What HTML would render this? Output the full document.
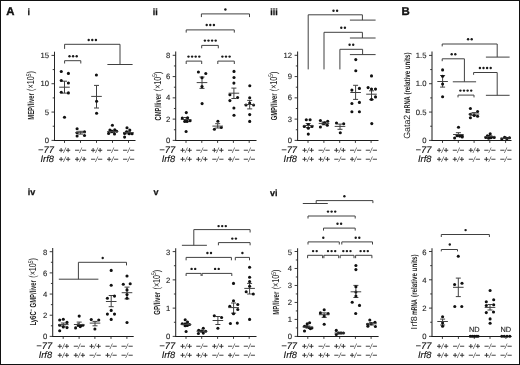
<!DOCTYPE html>
<html><head><meta charset="utf-8"><style>
html,body{margin:0;padding:0;background:#fff;}
#f{position:absolute;left:0;top:0;width:520px;height:365px;box-sizing:border-box;border:1px solid #111;background:#fff;overflow:hidden;}
svg{position:absolute;left:-1px;top:-1px;will-change:transform;}
text{font-family:"Liberation Sans",sans-serif;text-rendering:geometricPrecision;}
</style></head><body><div id="f">
<svg width="520" height="365" viewBox="0 0 520 365">
<line x1="54.50" y1="51.70" x2="54.50" y2="140.90" stroke="#262626" stroke-width="1.05"/>
<line x1="54.00" y1="140.40" x2="135.50" y2="140.40" stroke="#1c1c1c" stroke-width="1.05"/>
<line x1="51.50" y1="140.40" x2="54.50" y2="140.40" stroke="#262626" stroke-width="0.9"/>
<text x="49.00" y="143.00" font-size="7.7" text-anchor="end" font-weight="normal" font-style="normal" fill="#1e1e1e" stroke="#1e1e1e" stroke-width="0.12">0</text>
<line x1="51.50" y1="112.07" x2="54.50" y2="112.07" stroke="#262626" stroke-width="0.9"/>
<text x="49.00" y="114.67" font-size="7.7" text-anchor="end" font-weight="normal" font-style="normal" fill="#1e1e1e" stroke="#1e1e1e" stroke-width="0.12">5</text>
<line x1="51.50" y1="83.73" x2="54.50" y2="83.73" stroke="#262626" stroke-width="0.9"/>
<text x="49.00" y="86.33" font-size="7.7" text-anchor="end" font-weight="normal" font-style="normal" fill="#1e1e1e" stroke="#1e1e1e" stroke-width="0.12">10</text>
<line x1="51.50" y1="55.40" x2="54.50" y2="55.40" stroke="#262626" stroke-width="0.9"/>
<text x="49.00" y="58.00" font-size="7.7" text-anchor="end" font-weight="normal" font-style="normal" fill="#1e1e1e" stroke="#1e1e1e" stroke-width="0.12">15</text>
<line x1="52.70" y1="126.23" x2="54.50" y2="126.23" stroke="#262626" stroke-width="0.9"/>
<line x1="52.70" y1="97.90" x2="54.50" y2="97.90" stroke="#262626" stroke-width="0.9"/>
<line x1="52.70" y1="69.57" x2="54.50" y2="69.57" stroke="#262626" stroke-width="0.9"/>
<line x1="64.50" y1="140.40" x2="64.50" y2="142.90" stroke="#262626" stroke-width="0.9"/>
<text x="64.50" y="152.60" font-size="8.4" text-anchor="middle" font-weight="normal" font-style="italic" fill="#333" ><tspan font-weight="bold">+</tspan><tspan font-size="7.6">/</tspan><tspan font-weight="bold">+</tspan></text>
<text x="64.50" y="161.50" font-size="8.4" text-anchor="middle" font-weight="normal" font-style="italic" fill="#333" ><tspan font-weight="bold">+</tspan><tspan font-size="7.6">/</tspan><tspan font-weight="bold">+</tspan></text>
<line x1="80.50" y1="140.40" x2="80.50" y2="142.90" stroke="#262626" stroke-width="0.9"/>
<text x="80.50" y="152.60" font-size="8.4" text-anchor="middle" font-weight="normal" font-style="italic" fill="#333" ><tspan font-weight="bold">&#8722;</tspan><tspan font-size="7.6">/</tspan><tspan font-weight="bold">&#8722;</tspan></text>
<text x="80.50" y="161.50" font-size="8.4" text-anchor="middle" font-weight="normal" font-style="italic" fill="#333" ><tspan font-weight="bold">+</tspan><tspan font-size="7.6">/</tspan><tspan font-weight="bold">+</tspan></text>
<line x1="96.50" y1="140.40" x2="96.50" y2="142.90" stroke="#262626" stroke-width="0.9"/>
<text x="96.50" y="152.60" font-size="8.4" text-anchor="middle" font-weight="normal" font-style="italic" fill="#333" ><tspan font-weight="bold">+</tspan><tspan font-size="7.6">/</tspan><tspan font-weight="bold">+</tspan></text>
<text x="96.50" y="161.50" font-size="8.4" text-anchor="middle" font-weight="normal" font-style="italic" fill="#333" ><tspan font-weight="bold">&#8722;</tspan><tspan font-size="7.6">/</tspan><tspan font-weight="bold">&#8722;</tspan></text>
<line x1="112.50" y1="140.40" x2="112.50" y2="142.90" stroke="#262626" stroke-width="0.9"/>
<text x="112.50" y="152.60" font-size="8.4" text-anchor="middle" font-weight="normal" font-style="italic" fill="#333" ><tspan font-weight="bold">&#8722;</tspan><tspan font-size="7.6">/</tspan><tspan font-weight="bold">&#8722;</tspan></text>
<text x="112.50" y="161.50" font-size="8.4" text-anchor="middle" font-weight="normal" font-style="italic" fill="#333" ><tspan font-weight="bold">+</tspan><tspan font-size="7.6">/</tspan><tspan font-weight="bold">&#8722;</tspan></text>
<line x1="128.50" y1="140.40" x2="128.50" y2="142.90" stroke="#262626" stroke-width="0.9"/>
<text x="128.50" y="152.60" font-size="8.4" text-anchor="middle" font-weight="normal" font-style="italic" fill="#333" ><tspan font-weight="bold">&#8722;</tspan><tspan font-size="7.6">/</tspan><tspan font-weight="bold">&#8722;</tspan></text>
<text x="128.50" y="161.50" font-size="8.4" text-anchor="middle" font-weight="normal" font-style="italic" fill="#333" ><tspan font-weight="bold">&#8722;</tspan><tspan font-size="7.6">/</tspan><tspan font-weight="bold">&#8722;</tspan></text>
<text x="53.90" y="152.70" font-size="9.3" text-anchor="end" font-weight="normal" font-style="italic" fill="#111" stroke="#111" stroke-width="0.12">&#8722;77</text>
<text x="53.90" y="161.70" font-size="9.3" text-anchor="end" font-weight="normal" font-style="italic" fill="#111" stroke="#111" stroke-width="0.12">Irf8</text>
<line x1="175.70" y1="51.50" x2="175.70" y2="140.90" stroke="#262626" stroke-width="1.05"/>
<line x1="175.20" y1="140.40" x2="256.50" y2="140.40" stroke="#1c1c1c" stroke-width="1.05"/>
<line x1="172.70" y1="140.40" x2="175.70" y2="140.40" stroke="#262626" stroke-width="0.9"/>
<text x="170.20" y="143.00" font-size="7.7" text-anchor="end" font-weight="normal" font-style="normal" fill="#1e1e1e" stroke="#1e1e1e" stroke-width="0.12">0</text>
<line x1="172.70" y1="119.12" x2="175.70" y2="119.12" stroke="#262626" stroke-width="0.9"/>
<text x="170.20" y="121.72" font-size="7.7" text-anchor="end" font-weight="normal" font-style="normal" fill="#1e1e1e" stroke="#1e1e1e" stroke-width="0.12">2</text>
<line x1="172.70" y1="97.85" x2="175.70" y2="97.85" stroke="#262626" stroke-width="0.9"/>
<text x="170.20" y="100.45" font-size="7.7" text-anchor="end" font-weight="normal" font-style="normal" fill="#1e1e1e" stroke="#1e1e1e" stroke-width="0.12">4</text>
<line x1="172.70" y1="76.58" x2="175.70" y2="76.58" stroke="#262626" stroke-width="0.9"/>
<text x="170.20" y="79.18" font-size="7.7" text-anchor="end" font-weight="normal" font-style="normal" fill="#1e1e1e" stroke="#1e1e1e" stroke-width="0.12">6</text>
<line x1="172.70" y1="55.30" x2="175.70" y2="55.30" stroke="#262626" stroke-width="0.9"/>
<text x="170.20" y="57.90" font-size="7.7" text-anchor="end" font-weight="normal" font-style="normal" fill="#1e1e1e" stroke="#1e1e1e" stroke-width="0.12">8</text>
<line x1="173.90" y1="129.76" x2="175.70" y2="129.76" stroke="#262626" stroke-width="0.9"/>
<line x1="173.90" y1="108.49" x2="175.70" y2="108.49" stroke="#262626" stroke-width="0.9"/>
<line x1="173.90" y1="87.21" x2="175.70" y2="87.21" stroke="#262626" stroke-width="0.9"/>
<line x1="173.90" y1="65.94" x2="175.70" y2="65.94" stroke="#262626" stroke-width="0.9"/>
<line x1="186.00" y1="140.40" x2="186.00" y2="142.90" stroke="#262626" stroke-width="0.9"/>
<text x="186.00" y="152.60" font-size="8.4" text-anchor="middle" font-weight="normal" font-style="italic" fill="#333" ><tspan font-weight="bold">+</tspan><tspan font-size="7.6">/</tspan><tspan font-weight="bold">+</tspan></text>
<text x="186.00" y="161.50" font-size="8.4" text-anchor="middle" font-weight="normal" font-style="italic" fill="#333" ><tspan font-weight="bold">+</tspan><tspan font-size="7.6">/</tspan><tspan font-weight="bold">+</tspan></text>
<line x1="201.80" y1="140.40" x2="201.80" y2="142.90" stroke="#262626" stroke-width="0.9"/>
<text x="201.80" y="152.60" font-size="8.4" text-anchor="middle" font-weight="normal" font-style="italic" fill="#333" ><tspan font-weight="bold">&#8722;</tspan><tspan font-size="7.6">/</tspan><tspan font-weight="bold">&#8722;</tspan></text>
<text x="201.80" y="161.50" font-size="8.4" text-anchor="middle" font-weight="normal" font-style="italic" fill="#333" ><tspan font-weight="bold">+</tspan><tspan font-size="7.6">/</tspan><tspan font-weight="bold">+</tspan></text>
<line x1="217.60" y1="140.40" x2="217.60" y2="142.90" stroke="#262626" stroke-width="0.9"/>
<text x="217.60" y="152.60" font-size="8.4" text-anchor="middle" font-weight="normal" font-style="italic" fill="#333" ><tspan font-weight="bold">+</tspan><tspan font-size="7.6">/</tspan><tspan font-weight="bold">+</tspan></text>
<text x="217.60" y="161.50" font-size="8.4" text-anchor="middle" font-weight="normal" font-style="italic" fill="#333" ><tspan font-weight="bold">&#8722;</tspan><tspan font-size="7.6">/</tspan><tspan font-weight="bold">&#8722;</tspan></text>
<line x1="233.40" y1="140.40" x2="233.40" y2="142.90" stroke="#262626" stroke-width="0.9"/>
<text x="233.40" y="152.60" font-size="8.4" text-anchor="middle" font-weight="normal" font-style="italic" fill="#333" ><tspan font-weight="bold">&#8722;</tspan><tspan font-size="7.6">/</tspan><tspan font-weight="bold">&#8722;</tspan></text>
<text x="233.40" y="161.50" font-size="8.4" text-anchor="middle" font-weight="normal" font-style="italic" fill="#333" ><tspan font-weight="bold">+</tspan><tspan font-size="7.6">/</tspan><tspan font-weight="bold">&#8722;</tspan></text>
<line x1="249.20" y1="140.40" x2="249.20" y2="142.90" stroke="#262626" stroke-width="0.9"/>
<text x="249.20" y="152.60" font-size="8.4" text-anchor="middle" font-weight="normal" font-style="italic" fill="#333" ><tspan font-weight="bold">&#8722;</tspan><tspan font-size="7.6">/</tspan><tspan font-weight="bold">&#8722;</tspan></text>
<text x="249.20" y="161.50" font-size="8.4" text-anchor="middle" font-weight="normal" font-style="italic" fill="#333" ><tspan font-weight="bold">&#8722;</tspan><tspan font-size="7.6">/</tspan><tspan font-weight="bold">&#8722;</tspan></text>
<text x="175.10" y="152.70" font-size="9.3" text-anchor="end" font-weight="normal" font-style="italic" fill="#111" stroke="#111" stroke-width="0.12">&#8722;77</text>
<text x="175.10" y="161.70" font-size="9.3" text-anchor="end" font-weight="normal" font-style="italic" fill="#111" stroke="#111" stroke-width="0.12">Irf8</text>
<line x1="297.60" y1="51.50" x2="297.60" y2="140.90" stroke="#262626" stroke-width="1.05"/>
<line x1="297.10" y1="140.40" x2="378.50" y2="140.40" stroke="#1c1c1c" stroke-width="1.05"/>
<line x1="294.60" y1="140.40" x2="297.60" y2="140.40" stroke="#262626" stroke-width="0.9"/>
<text x="292.10" y="143.00" font-size="7.7" text-anchor="end" font-weight="normal" font-style="normal" fill="#1e1e1e" stroke="#1e1e1e" stroke-width="0.12">0</text>
<line x1="294.60" y1="119.12" x2="297.60" y2="119.12" stroke="#262626" stroke-width="0.9"/>
<text x="292.10" y="121.72" font-size="7.7" text-anchor="end" font-weight="normal" font-style="normal" fill="#1e1e1e" stroke="#1e1e1e" stroke-width="0.12">3</text>
<line x1="294.60" y1="97.85" x2="297.60" y2="97.85" stroke="#262626" stroke-width="0.9"/>
<text x="292.10" y="100.45" font-size="7.7" text-anchor="end" font-weight="normal" font-style="normal" fill="#1e1e1e" stroke="#1e1e1e" stroke-width="0.12">6</text>
<line x1="294.60" y1="76.58" x2="297.60" y2="76.58" stroke="#262626" stroke-width="0.9"/>
<text x="292.10" y="79.18" font-size="7.7" text-anchor="end" font-weight="normal" font-style="normal" fill="#1e1e1e" stroke="#1e1e1e" stroke-width="0.12">9</text>
<line x1="294.60" y1="55.30" x2="297.60" y2="55.30" stroke="#262626" stroke-width="0.9"/>
<text x="292.10" y="57.90" font-size="7.7" text-anchor="end" font-weight="normal" font-style="normal" fill="#1e1e1e" stroke="#1e1e1e" stroke-width="0.12">12</text>
<line x1="295.80" y1="129.76" x2="297.60" y2="129.76" stroke="#262626" stroke-width="0.9"/>
<line x1="295.80" y1="108.49" x2="297.60" y2="108.49" stroke="#262626" stroke-width="0.9"/>
<line x1="295.80" y1="87.21" x2="297.60" y2="87.21" stroke="#262626" stroke-width="0.9"/>
<line x1="295.80" y1="65.94" x2="297.60" y2="65.94" stroke="#262626" stroke-width="0.9"/>
<line x1="308.00" y1="140.40" x2="308.00" y2="142.90" stroke="#262626" stroke-width="0.9"/>
<text x="308.00" y="152.60" font-size="8.4" text-anchor="middle" font-weight="normal" font-style="italic" fill="#333" ><tspan font-weight="bold">+</tspan><tspan font-size="7.6">/</tspan><tspan font-weight="bold">+</tspan></text>
<text x="308.00" y="161.50" font-size="8.4" text-anchor="middle" font-weight="normal" font-style="italic" fill="#333" ><tspan font-weight="bold">+</tspan><tspan font-size="7.6">/</tspan><tspan font-weight="bold">+</tspan></text>
<line x1="323.90" y1="140.40" x2="323.90" y2="142.90" stroke="#262626" stroke-width="0.9"/>
<text x="323.90" y="152.60" font-size="8.4" text-anchor="middle" font-weight="normal" font-style="italic" fill="#333" ><tspan font-weight="bold">&#8722;</tspan><tspan font-size="7.6">/</tspan><tspan font-weight="bold">&#8722;</tspan></text>
<text x="323.90" y="161.50" font-size="8.4" text-anchor="middle" font-weight="normal" font-style="italic" fill="#333" ><tspan font-weight="bold">+</tspan><tspan font-size="7.6">/</tspan><tspan font-weight="bold">+</tspan></text>
<line x1="339.70" y1="140.40" x2="339.70" y2="142.90" stroke="#262626" stroke-width="0.9"/>
<text x="339.70" y="152.60" font-size="8.4" text-anchor="middle" font-weight="normal" font-style="italic" fill="#333" ><tspan font-weight="bold">+</tspan><tspan font-size="7.6">/</tspan><tspan font-weight="bold">+</tspan></text>
<text x="339.70" y="161.50" font-size="8.4" text-anchor="middle" font-weight="normal" font-style="italic" fill="#333" ><tspan font-weight="bold">&#8722;</tspan><tspan font-size="7.6">/</tspan><tspan font-weight="bold">&#8722;</tspan></text>
<line x1="355.40" y1="140.40" x2="355.40" y2="142.90" stroke="#262626" stroke-width="0.9"/>
<text x="355.40" y="152.60" font-size="8.4" text-anchor="middle" font-weight="normal" font-style="italic" fill="#333" ><tspan font-weight="bold">&#8722;</tspan><tspan font-size="7.6">/</tspan><tspan font-weight="bold">&#8722;</tspan></text>
<text x="355.40" y="161.50" font-size="8.4" text-anchor="middle" font-weight="normal" font-style="italic" fill="#333" ><tspan font-weight="bold">+</tspan><tspan font-size="7.6">/</tspan><tspan font-weight="bold">&#8722;</tspan></text>
<line x1="371.10" y1="140.40" x2="371.10" y2="142.90" stroke="#262626" stroke-width="0.9"/>
<text x="371.10" y="152.60" font-size="8.4" text-anchor="middle" font-weight="normal" font-style="italic" fill="#333" ><tspan font-weight="bold">&#8722;</tspan><tspan font-size="7.6">/</tspan><tspan font-weight="bold">&#8722;</tspan></text>
<text x="371.10" y="161.50" font-size="8.4" text-anchor="middle" font-weight="normal" font-style="italic" fill="#333" ><tspan font-weight="bold">&#8722;</tspan><tspan font-size="7.6">/</tspan><tspan font-weight="bold">&#8722;</tspan></text>
<text x="297.00" y="152.70" font-size="9.3" text-anchor="end" font-weight="normal" font-style="italic" fill="#111" stroke="#111" stroke-width="0.12">&#8722;77</text>
<text x="297.00" y="161.70" font-size="9.3" text-anchor="end" font-weight="normal" font-style="italic" fill="#111" stroke="#111" stroke-width="0.12">Irf8</text>
<line x1="432.00" y1="51.50" x2="432.00" y2="140.90" stroke="#262626" stroke-width="1.05"/>
<line x1="431.50" y1="140.40" x2="511.50" y2="140.40" stroke="#1c1c1c" stroke-width="1.05"/>
<line x1="429.00" y1="140.40" x2="432.00" y2="140.40" stroke="#262626" stroke-width="0.9"/>
<text x="426.50" y="143.00" font-size="7.7" text-anchor="end" font-weight="normal" font-style="normal" fill="#1e1e1e" stroke="#1e1e1e" stroke-width="0.12">0</text>
<line x1="429.00" y1="112.07" x2="432.00" y2="112.07" stroke="#262626" stroke-width="0.9"/>
<text x="426.50" y="114.67" font-size="7.7" text-anchor="end" font-weight="normal" font-style="normal" fill="#1e1e1e" stroke="#1e1e1e" stroke-width="0.12">0.5</text>
<line x1="429.00" y1="83.73" x2="432.00" y2="83.73" stroke="#262626" stroke-width="0.9"/>
<text x="426.50" y="86.33" font-size="7.7" text-anchor="end" font-weight="normal" font-style="normal" fill="#1e1e1e" stroke="#1e1e1e" stroke-width="0.12">1.0</text>
<line x1="429.00" y1="55.40" x2="432.00" y2="55.40" stroke="#262626" stroke-width="0.9"/>
<text x="426.50" y="58.00" font-size="7.7" text-anchor="end" font-weight="normal" font-style="normal" fill="#1e1e1e" stroke="#1e1e1e" stroke-width="0.12">1.5</text>
<line x1="430.20" y1="126.23" x2="432.00" y2="126.23" stroke="#262626" stroke-width="0.9"/>
<line x1="430.20" y1="97.90" x2="432.00" y2="97.90" stroke="#262626" stroke-width="0.9"/>
<line x1="430.20" y1="69.57" x2="432.00" y2="69.57" stroke="#262626" stroke-width="0.9"/>
<line x1="442.50" y1="140.40" x2="442.50" y2="142.90" stroke="#262626" stroke-width="0.9"/>
<text x="442.50" y="152.60" font-size="8.4" text-anchor="middle" font-weight="normal" font-style="italic" fill="#333" ><tspan font-weight="bold">+</tspan><tspan font-size="7.6">/</tspan><tspan font-weight="bold">+</tspan></text>
<text x="442.50" y="161.50" font-size="8.4" text-anchor="middle" font-weight="normal" font-style="italic" fill="#333" ><tspan font-weight="bold">+</tspan><tspan font-size="7.6">/</tspan><tspan font-weight="bold">+</tspan></text>
<line x1="458.30" y1="140.40" x2="458.30" y2="142.90" stroke="#262626" stroke-width="0.9"/>
<text x="458.30" y="152.60" font-size="8.4" text-anchor="middle" font-weight="normal" font-style="italic" fill="#333" ><tspan font-weight="bold">&#8722;</tspan><tspan font-size="7.6">/</tspan><tspan font-weight="bold">&#8722;</tspan></text>
<text x="458.30" y="161.50" font-size="8.4" text-anchor="middle" font-weight="normal" font-style="italic" fill="#333" ><tspan font-weight="bold">+</tspan><tspan font-size="7.6">/</tspan><tspan font-weight="bold">+</tspan></text>
<line x1="474.10" y1="140.40" x2="474.10" y2="142.90" stroke="#262626" stroke-width="0.9"/>
<text x="474.10" y="152.60" font-size="8.4" text-anchor="middle" font-weight="normal" font-style="italic" fill="#333" ><tspan font-weight="bold">+</tspan><tspan font-size="7.6">/</tspan><tspan font-weight="bold">+</tspan></text>
<text x="474.10" y="161.50" font-size="8.4" text-anchor="middle" font-weight="normal" font-style="italic" fill="#333" ><tspan font-weight="bold">&#8722;</tspan><tspan font-size="7.6">/</tspan><tspan font-weight="bold">&#8722;</tspan></text>
<line x1="489.80" y1="140.40" x2="489.80" y2="142.90" stroke="#262626" stroke-width="0.9"/>
<text x="489.80" y="152.60" font-size="8.4" text-anchor="middle" font-weight="normal" font-style="italic" fill="#333" ><tspan font-weight="bold">&#8722;</tspan><tspan font-size="7.6">/</tspan><tspan font-weight="bold">&#8722;</tspan></text>
<text x="489.80" y="161.50" font-size="8.4" text-anchor="middle" font-weight="normal" font-style="italic" fill="#333" ><tspan font-weight="bold">+</tspan><tspan font-size="7.6">/</tspan><tspan font-weight="bold">&#8722;</tspan></text>
<line x1="505.60" y1="140.40" x2="505.60" y2="142.90" stroke="#262626" stroke-width="0.9"/>
<text x="505.60" y="152.60" font-size="8.4" text-anchor="middle" font-weight="normal" font-style="italic" fill="#333" ><tspan font-weight="bold">&#8722;</tspan><tspan font-size="7.6">/</tspan><tspan font-weight="bold">&#8722;</tspan></text>
<text x="505.60" y="161.50" font-size="8.4" text-anchor="middle" font-weight="normal" font-style="italic" fill="#333" ><tspan font-weight="bold">&#8722;</tspan><tspan font-size="7.6">/</tspan><tspan font-weight="bold">&#8722;</tspan></text>
<text x="431.40" y="152.70" font-size="9.3" text-anchor="end" font-weight="normal" font-style="italic" fill="#111" stroke="#111" stroke-width="0.12">&#8722;77</text>
<text x="431.40" y="161.70" font-size="9.3" text-anchor="end" font-weight="normal" font-style="italic" fill="#111" stroke="#111" stroke-width="0.12">Irf8</text>
<line x1="52.70" y1="248.00" x2="52.70" y2="336.90" stroke="#262626" stroke-width="1.05"/>
<line x1="52.20" y1="336.40" x2="133.70" y2="336.40" stroke="#1c1c1c" stroke-width="1.05"/>
<line x1="49.70" y1="336.40" x2="52.70" y2="336.40" stroke="#262626" stroke-width="0.9"/>
<text x="47.20" y="339.40" font-size="7.7" text-anchor="end" font-weight="normal" font-style="normal" fill="#1e1e1e" stroke="#1e1e1e" stroke-width="0.12">0</text>
<line x1="49.70" y1="315.22" x2="52.70" y2="315.22" stroke="#262626" stroke-width="0.9"/>
<text x="47.20" y="318.22" font-size="7.7" text-anchor="end" font-weight="normal" font-style="normal" fill="#1e1e1e" stroke="#1e1e1e" stroke-width="0.12">2</text>
<line x1="49.70" y1="294.05" x2="52.70" y2="294.05" stroke="#262626" stroke-width="0.9"/>
<text x="47.20" y="297.05" font-size="7.7" text-anchor="end" font-weight="normal" font-style="normal" fill="#1e1e1e" stroke="#1e1e1e" stroke-width="0.12">4</text>
<line x1="49.70" y1="272.88" x2="52.70" y2="272.88" stroke="#262626" stroke-width="0.9"/>
<text x="47.20" y="275.88" font-size="7.7" text-anchor="end" font-weight="normal" font-style="normal" fill="#1e1e1e" stroke="#1e1e1e" stroke-width="0.12">6</text>
<line x1="49.70" y1="251.70" x2="52.70" y2="251.70" stroke="#262626" stroke-width="0.9"/>
<text x="47.20" y="254.70" font-size="7.7" text-anchor="end" font-weight="normal" font-style="normal" fill="#1e1e1e" stroke="#1e1e1e" stroke-width="0.12">8</text>
<line x1="50.90" y1="325.81" x2="52.70" y2="325.81" stroke="#262626" stroke-width="0.9"/>
<line x1="50.90" y1="304.64" x2="52.70" y2="304.64" stroke="#262626" stroke-width="0.9"/>
<line x1="50.90" y1="283.46" x2="52.70" y2="283.46" stroke="#262626" stroke-width="0.9"/>
<line x1="50.90" y1="262.29" x2="52.70" y2="262.29" stroke="#262626" stroke-width="0.9"/>
<line x1="63.20" y1="336.40" x2="63.20" y2="338.90" stroke="#262626" stroke-width="0.9"/>
<text x="63.20" y="348.60" font-size="8.4" text-anchor="middle" font-weight="normal" font-style="italic" fill="#333" ><tspan font-weight="bold">+</tspan><tspan font-size="7.6">/</tspan><tspan font-weight="bold">+</tspan></text>
<text x="63.20" y="357.50" font-size="8.4" text-anchor="middle" font-weight="normal" font-style="italic" fill="#333" ><tspan font-weight="bold">+</tspan><tspan font-size="7.6">/</tspan><tspan font-weight="bold">+</tspan></text>
<line x1="79.10" y1="336.40" x2="79.10" y2="338.90" stroke="#262626" stroke-width="0.9"/>
<text x="79.10" y="348.60" font-size="8.4" text-anchor="middle" font-weight="normal" font-style="italic" fill="#333" ><tspan font-weight="bold">&#8722;</tspan><tspan font-size="7.6">/</tspan><tspan font-weight="bold">&#8722;</tspan></text>
<text x="79.10" y="357.50" font-size="8.4" text-anchor="middle" font-weight="normal" font-style="italic" fill="#333" ><tspan font-weight="bold">+</tspan><tspan font-size="7.6">/</tspan><tspan font-weight="bold">+</tspan></text>
<line x1="94.90" y1="336.40" x2="94.90" y2="338.90" stroke="#262626" stroke-width="0.9"/>
<text x="94.90" y="348.60" font-size="8.4" text-anchor="middle" font-weight="normal" font-style="italic" fill="#333" ><tspan font-weight="bold">+</tspan><tspan font-size="7.6">/</tspan><tspan font-weight="bold">+</tspan></text>
<text x="94.90" y="357.50" font-size="8.4" text-anchor="middle" font-weight="normal" font-style="italic" fill="#333" ><tspan font-weight="bold">&#8722;</tspan><tspan font-size="7.6">/</tspan><tspan font-weight="bold">&#8722;</tspan></text>
<line x1="111.00" y1="336.40" x2="111.00" y2="338.90" stroke="#262626" stroke-width="0.9"/>
<text x="111.00" y="348.60" font-size="8.4" text-anchor="middle" font-weight="normal" font-style="italic" fill="#333" ><tspan font-weight="bold">&#8722;</tspan><tspan font-size="7.6">/</tspan><tspan font-weight="bold">&#8722;</tspan></text>
<text x="111.00" y="357.50" font-size="8.4" text-anchor="middle" font-weight="normal" font-style="italic" fill="#333" ><tspan font-weight="bold">+</tspan><tspan font-size="7.6">/</tspan><tspan font-weight="bold">&#8722;</tspan></text>
<line x1="126.90" y1="336.40" x2="126.90" y2="338.90" stroke="#262626" stroke-width="0.9"/>
<text x="126.90" y="348.60" font-size="8.4" text-anchor="middle" font-weight="normal" font-style="italic" fill="#333" ><tspan font-weight="bold">&#8722;</tspan><tspan font-size="7.6">/</tspan><tspan font-weight="bold">&#8722;</tspan></text>
<text x="126.90" y="357.50" font-size="8.4" text-anchor="middle" font-weight="normal" font-style="italic" fill="#333" ><tspan font-weight="bold">&#8722;</tspan><tspan font-size="7.6">/</tspan><tspan font-weight="bold">&#8722;</tspan></text>
<text x="52.10" y="348.70" font-size="9.3" text-anchor="end" font-weight="normal" font-style="italic" fill="#111" stroke="#111" stroke-width="0.12">&#8722;77</text>
<text x="52.10" y="357.70" font-size="9.3" text-anchor="end" font-weight="normal" font-style="italic" fill="#111" stroke="#111" stroke-width="0.12">Irf8</text>
<line x1="175.70" y1="248.20" x2="175.70" y2="336.90" stroke="#262626" stroke-width="1.05"/>
<line x1="175.20" y1="336.40" x2="256.50" y2="336.40" stroke="#1c1c1c" stroke-width="1.05"/>
<line x1="172.70" y1="336.40" x2="175.70" y2="336.40" stroke="#262626" stroke-width="0.9"/>
<text x="170.20" y="339.40" font-size="7.7" text-anchor="end" font-weight="normal" font-style="normal" fill="#1e1e1e" stroke="#1e1e1e" stroke-width="0.12">0</text>
<line x1="172.70" y1="308.13" x2="175.70" y2="308.13" stroke="#262626" stroke-width="0.9"/>
<text x="170.20" y="311.13" font-size="7.7" text-anchor="end" font-weight="normal" font-style="normal" fill="#1e1e1e" stroke="#1e1e1e" stroke-width="0.12">1</text>
<line x1="172.70" y1="279.87" x2="175.70" y2="279.87" stroke="#262626" stroke-width="0.9"/>
<text x="170.20" y="282.87" font-size="7.7" text-anchor="end" font-weight="normal" font-style="normal" fill="#1e1e1e" stroke="#1e1e1e" stroke-width="0.12">2</text>
<line x1="172.70" y1="251.60" x2="175.70" y2="251.60" stroke="#262626" stroke-width="0.9"/>
<text x="170.20" y="254.60" font-size="7.7" text-anchor="end" font-weight="normal" font-style="normal" fill="#1e1e1e" stroke="#1e1e1e" stroke-width="0.12">3</text>
<line x1="173.90" y1="322.27" x2="175.70" y2="322.27" stroke="#262626" stroke-width="0.9"/>
<line x1="173.90" y1="294.00" x2="175.70" y2="294.00" stroke="#262626" stroke-width="0.9"/>
<line x1="173.90" y1="265.73" x2="175.70" y2="265.73" stroke="#262626" stroke-width="0.9"/>
<line x1="186.00" y1="336.40" x2="186.00" y2="338.90" stroke="#262626" stroke-width="0.9"/>
<text x="186.00" y="348.60" font-size="8.4" text-anchor="middle" font-weight="normal" font-style="italic" fill="#333" ><tspan font-weight="bold">+</tspan><tspan font-size="7.6">/</tspan><tspan font-weight="bold">+</tspan></text>
<text x="186.00" y="357.50" font-size="8.4" text-anchor="middle" font-weight="normal" font-style="italic" fill="#333" ><tspan font-weight="bold">+</tspan><tspan font-size="7.6">/</tspan><tspan font-weight="bold">+</tspan></text>
<line x1="201.70" y1="336.40" x2="201.70" y2="338.90" stroke="#262626" stroke-width="0.9"/>
<text x="201.70" y="348.60" font-size="8.4" text-anchor="middle" font-weight="normal" font-style="italic" fill="#333" ><tspan font-weight="bold">&#8722;</tspan><tspan font-size="7.6">/</tspan><tspan font-weight="bold">&#8722;</tspan></text>
<text x="201.70" y="357.50" font-size="8.4" text-anchor="middle" font-weight="normal" font-style="italic" fill="#333" ><tspan font-weight="bold">+</tspan><tspan font-size="7.6">/</tspan><tspan font-weight="bold">+</tspan></text>
<line x1="217.60" y1="336.40" x2="217.60" y2="338.90" stroke="#262626" stroke-width="0.9"/>
<text x="217.60" y="348.60" font-size="8.4" text-anchor="middle" font-weight="normal" font-style="italic" fill="#333" ><tspan font-weight="bold">+</tspan><tspan font-size="7.6">/</tspan><tspan font-weight="bold">+</tspan></text>
<text x="217.60" y="357.50" font-size="8.4" text-anchor="middle" font-weight="normal" font-style="italic" fill="#333" ><tspan font-weight="bold">&#8722;</tspan><tspan font-size="7.6">/</tspan><tspan font-weight="bold">&#8722;</tspan></text>
<line x1="233.50" y1="336.40" x2="233.50" y2="338.90" stroke="#262626" stroke-width="0.9"/>
<text x="233.50" y="348.60" font-size="8.4" text-anchor="middle" font-weight="normal" font-style="italic" fill="#333" ><tspan font-weight="bold">&#8722;</tspan><tspan font-size="7.6">/</tspan><tspan font-weight="bold">&#8722;</tspan></text>
<text x="233.50" y="357.50" font-size="8.4" text-anchor="middle" font-weight="normal" font-style="italic" fill="#333" ><tspan font-weight="bold">+</tspan><tspan font-size="7.6">/</tspan><tspan font-weight="bold">&#8722;</tspan></text>
<line x1="249.20" y1="336.40" x2="249.20" y2="338.90" stroke="#262626" stroke-width="0.9"/>
<text x="249.20" y="348.60" font-size="8.4" text-anchor="middle" font-weight="normal" font-style="italic" fill="#333" ><tspan font-weight="bold">&#8722;</tspan><tspan font-size="7.6">/</tspan><tspan font-weight="bold">&#8722;</tspan></text>
<text x="249.20" y="357.50" font-size="8.4" text-anchor="middle" font-weight="normal" font-style="italic" fill="#333" ><tspan font-weight="bold">&#8722;</tspan><tspan font-size="7.6">/</tspan><tspan font-weight="bold">&#8722;</tspan></text>
<text x="175.10" y="348.70" font-size="9.3" text-anchor="end" font-weight="normal" font-style="italic" fill="#111" stroke="#111" stroke-width="0.12">&#8722;77</text>
<text x="175.10" y="357.70" font-size="9.3" text-anchor="end" font-weight="normal" font-style="italic" fill="#111" stroke="#111" stroke-width="0.12">Irf8</text>
<line x1="297.60" y1="248.30" x2="297.60" y2="336.90" stroke="#262626" stroke-width="1.05"/>
<line x1="297.10" y1="336.40" x2="378.60" y2="336.40" stroke="#1c1c1c" stroke-width="1.05"/>
<line x1="294.60" y1="336.40" x2="297.60" y2="336.40" stroke="#262626" stroke-width="0.9"/>
<text x="292.10" y="339.40" font-size="7.7" text-anchor="end" font-weight="normal" font-style="normal" fill="#1e1e1e" stroke="#1e1e1e" stroke-width="0.12">0</text>
<line x1="294.60" y1="319.42" x2="297.60" y2="319.42" stroke="#262626" stroke-width="0.9"/>
<text x="292.10" y="322.42" font-size="7.7" text-anchor="end" font-weight="normal" font-style="normal" fill="#1e1e1e" stroke="#1e1e1e" stroke-width="0.12">1</text>
<line x1="294.60" y1="302.44" x2="297.60" y2="302.44" stroke="#262626" stroke-width="0.9"/>
<text x="292.10" y="305.44" font-size="7.7" text-anchor="end" font-weight="normal" font-style="normal" fill="#1e1e1e" stroke="#1e1e1e" stroke-width="0.12">2</text>
<line x1="294.60" y1="285.46" x2="297.60" y2="285.46" stroke="#262626" stroke-width="0.9"/>
<text x="292.10" y="288.46" font-size="7.7" text-anchor="end" font-weight="normal" font-style="normal" fill="#1e1e1e" stroke="#1e1e1e" stroke-width="0.12">3</text>
<line x1="294.60" y1="268.48" x2="297.60" y2="268.48" stroke="#262626" stroke-width="0.9"/>
<text x="292.10" y="271.48" font-size="7.7" text-anchor="end" font-weight="normal" font-style="normal" fill="#1e1e1e" stroke="#1e1e1e" stroke-width="0.12">4</text>
<line x1="294.60" y1="251.50" x2="297.60" y2="251.50" stroke="#262626" stroke-width="0.9"/>
<text x="292.10" y="254.50" font-size="7.7" text-anchor="end" font-weight="normal" font-style="normal" fill="#1e1e1e" stroke="#1e1e1e" stroke-width="0.12">5</text>
<line x1="295.80" y1="327.91" x2="297.60" y2="327.91" stroke="#262626" stroke-width="0.9"/>
<line x1="295.80" y1="310.93" x2="297.60" y2="310.93" stroke="#262626" stroke-width="0.9"/>
<line x1="295.80" y1="293.95" x2="297.60" y2="293.95" stroke="#262626" stroke-width="0.9"/>
<line x1="295.80" y1="276.97" x2="297.60" y2="276.97" stroke="#262626" stroke-width="0.9"/>
<line x1="295.80" y1="259.99" x2="297.60" y2="259.99" stroke="#262626" stroke-width="0.9"/>
<line x1="307.80" y1="336.40" x2="307.80" y2="338.90" stroke="#262626" stroke-width="0.9"/>
<text x="307.80" y="348.60" font-size="8.4" text-anchor="middle" font-weight="normal" font-style="italic" fill="#333" ><tspan font-weight="bold">+</tspan><tspan font-size="7.6">/</tspan><tspan font-weight="bold">+</tspan></text>
<text x="307.80" y="357.50" font-size="8.4" text-anchor="middle" font-weight="normal" font-style="italic" fill="#333" ><tspan font-weight="bold">+</tspan><tspan font-size="7.6">/</tspan><tspan font-weight="bold">+</tspan></text>
<line x1="323.90" y1="336.40" x2="323.90" y2="338.90" stroke="#262626" stroke-width="0.9"/>
<text x="323.90" y="348.60" font-size="8.4" text-anchor="middle" font-weight="normal" font-style="italic" fill="#333" ><tspan font-weight="bold">&#8722;</tspan><tspan font-size="7.6">/</tspan><tspan font-weight="bold">&#8722;</tspan></text>
<text x="323.90" y="357.50" font-size="8.4" text-anchor="middle" font-weight="normal" font-style="italic" fill="#333" ><tspan font-weight="bold">+</tspan><tspan font-size="7.6">/</tspan><tspan font-weight="bold">+</tspan></text>
<line x1="339.70" y1="336.40" x2="339.70" y2="338.90" stroke="#262626" stroke-width="0.9"/>
<text x="339.70" y="348.60" font-size="8.4" text-anchor="middle" font-weight="normal" font-style="italic" fill="#333" ><tspan font-weight="bold">+</tspan><tspan font-size="7.6">/</tspan><tspan font-weight="bold">+</tspan></text>
<text x="339.70" y="357.50" font-size="8.4" text-anchor="middle" font-weight="normal" font-style="italic" fill="#333" ><tspan font-weight="bold">&#8722;</tspan><tspan font-size="7.6">/</tspan><tspan font-weight="bold">&#8722;</tspan></text>
<line x1="355.40" y1="336.40" x2="355.40" y2="338.90" stroke="#262626" stroke-width="0.9"/>
<text x="355.40" y="348.60" font-size="8.4" text-anchor="middle" font-weight="normal" font-style="italic" fill="#333" ><tspan font-weight="bold">&#8722;</tspan><tspan font-size="7.6">/</tspan><tspan font-weight="bold">&#8722;</tspan></text>
<text x="355.40" y="357.50" font-size="8.4" text-anchor="middle" font-weight="normal" font-style="italic" fill="#333" ><tspan font-weight="bold">+</tspan><tspan font-size="7.6">/</tspan><tspan font-weight="bold">&#8722;</tspan></text>
<line x1="371.10" y1="336.40" x2="371.10" y2="338.90" stroke="#262626" stroke-width="0.9"/>
<text x="371.10" y="348.60" font-size="8.4" text-anchor="middle" font-weight="normal" font-style="italic" fill="#333" ><tspan font-weight="bold">&#8722;</tspan><tspan font-size="7.6">/</tspan><tspan font-weight="bold">&#8722;</tspan></text>
<text x="371.10" y="357.50" font-size="8.4" text-anchor="middle" font-weight="normal" font-style="italic" fill="#333" ><tspan font-weight="bold">&#8722;</tspan><tspan font-size="7.6">/</tspan><tspan font-weight="bold">&#8722;</tspan></text>
<text x="297.00" y="348.70" font-size="9.3" text-anchor="end" font-weight="normal" font-style="italic" fill="#111" stroke="#111" stroke-width="0.12">&#8722;77</text>
<text x="297.00" y="357.70" font-size="9.3" text-anchor="end" font-weight="normal" font-style="italic" fill="#111" stroke="#111" stroke-width="0.12">Irf8</text>
<line x1="432.00" y1="248.30" x2="432.00" y2="336.90" stroke="#262626" stroke-width="1.05"/>
<line x1="431.50" y1="336.40" x2="511.40" y2="336.40" stroke="#1c1c1c" stroke-width="1.05"/>
<line x1="429.00" y1="336.40" x2="432.00" y2="336.40" stroke="#262626" stroke-width="0.9"/>
<text x="426.50" y="339.40" font-size="7.7" text-anchor="end" font-weight="normal" font-style="normal" fill="#1e1e1e" stroke="#1e1e1e" stroke-width="0.12">0</text>
<line x1="429.00" y1="308.10" x2="432.00" y2="308.10" stroke="#262626" stroke-width="0.9"/>
<text x="426.50" y="311.10" font-size="7.7" text-anchor="end" font-weight="normal" font-style="normal" fill="#1e1e1e" stroke="#1e1e1e" stroke-width="0.12">2</text>
<line x1="429.00" y1="279.80" x2="432.00" y2="279.80" stroke="#262626" stroke-width="0.9"/>
<text x="426.50" y="282.80" font-size="7.7" text-anchor="end" font-weight="normal" font-style="normal" fill="#1e1e1e" stroke="#1e1e1e" stroke-width="0.12">4</text>
<line x1="429.00" y1="251.50" x2="432.00" y2="251.50" stroke="#262626" stroke-width="0.9"/>
<text x="426.50" y="254.50" font-size="7.7" text-anchor="end" font-weight="normal" font-style="normal" fill="#1e1e1e" stroke="#1e1e1e" stroke-width="0.12">6</text>
<line x1="430.20" y1="322.25" x2="432.00" y2="322.25" stroke="#262626" stroke-width="0.9"/>
<line x1="430.20" y1="293.95" x2="432.00" y2="293.95" stroke="#262626" stroke-width="0.9"/>
<line x1="430.20" y1="265.65" x2="432.00" y2="265.65" stroke="#262626" stroke-width="0.9"/>
<line x1="442.40" y1="336.40" x2="442.40" y2="338.90" stroke="#262626" stroke-width="0.9"/>
<text x="442.40" y="348.60" font-size="8.4" text-anchor="middle" font-weight="normal" font-style="italic" fill="#333" ><tspan font-weight="bold">+</tspan><tspan font-size="7.6">/</tspan><tspan font-weight="bold">+</tspan></text>
<text x="442.40" y="357.50" font-size="8.4" text-anchor="middle" font-weight="normal" font-style="italic" fill="#333" ><tspan font-weight="bold">+</tspan><tspan font-size="7.6">/</tspan><tspan font-weight="bold">+</tspan></text>
<line x1="458.40" y1="336.40" x2="458.40" y2="338.90" stroke="#262626" stroke-width="0.9"/>
<text x="458.40" y="348.60" font-size="8.4" text-anchor="middle" font-weight="normal" font-style="italic" fill="#333" ><tspan font-weight="bold">&#8722;</tspan><tspan font-size="7.6">/</tspan><tspan font-weight="bold">&#8722;</tspan></text>
<text x="458.40" y="357.50" font-size="8.4" text-anchor="middle" font-weight="normal" font-style="italic" fill="#333" ><tspan font-weight="bold">+</tspan><tspan font-size="7.6">/</tspan><tspan font-weight="bold">+</tspan></text>
<line x1="474.30" y1="336.40" x2="474.30" y2="338.90" stroke="#262626" stroke-width="0.9"/>
<text x="474.30" y="348.60" font-size="8.4" text-anchor="middle" font-weight="normal" font-style="italic" fill="#333" ><tspan font-weight="bold">+</tspan><tspan font-size="7.6">/</tspan><tspan font-weight="bold">+</tspan></text>
<text x="474.30" y="357.50" font-size="8.4" text-anchor="middle" font-weight="normal" font-style="italic" fill="#333" ><tspan font-weight="bold">&#8722;</tspan><tspan font-size="7.6">/</tspan><tspan font-weight="bold">&#8722;</tspan></text>
<line x1="490.00" y1="336.40" x2="490.00" y2="338.90" stroke="#262626" stroke-width="0.9"/>
<text x="490.00" y="348.60" font-size="8.4" text-anchor="middle" font-weight="normal" font-style="italic" fill="#333" ><tspan font-weight="bold">&#8722;</tspan><tspan font-size="7.6">/</tspan><tspan font-weight="bold">&#8722;</tspan></text>
<text x="490.00" y="357.50" font-size="8.4" text-anchor="middle" font-weight="normal" font-style="italic" fill="#333" ><tspan font-weight="bold">+</tspan><tspan font-size="7.6">/</tspan><tspan font-weight="bold">&#8722;</tspan></text>
<line x1="505.90" y1="336.40" x2="505.90" y2="338.90" stroke="#262626" stroke-width="0.9"/>
<text x="505.90" y="348.60" font-size="8.4" text-anchor="middle" font-weight="normal" font-style="italic" fill="#333" ><tspan font-weight="bold">&#8722;</tspan><tspan font-size="7.6">/</tspan><tspan font-weight="bold">&#8722;</tspan></text>
<text x="505.90" y="357.50" font-size="8.4" text-anchor="middle" font-weight="normal" font-style="italic" fill="#333" ><tspan font-weight="bold">&#8722;</tspan><tspan font-size="7.6">/</tspan><tspan font-weight="bold">&#8722;</tspan></text>
<text x="431.40" y="348.70" font-size="9.3" text-anchor="end" font-weight="normal" font-style="italic" fill="#111" stroke="#111" stroke-width="0.12">&#8722;77</text>
<text x="431.40" y="357.70" font-size="9.3" text-anchor="end" font-weight="normal" font-style="italic" fill="#111" stroke="#111" stroke-width="0.12">Irf8</text>
<line x1="64.50" y1="81.20" x2="64.50" y2="93.10" stroke="#404040" stroke-width="1.0"/>
<line x1="62.00" y1="81.20" x2="67.00" y2="81.20" stroke="#404040" stroke-width="1.0"/>
<line x1="62.00" y1="93.10" x2="67.00" y2="93.10" stroke="#404040" stroke-width="1.0"/>
<circle cx="61.25" cy="71.50" r="1.55" fill="#111"/>
<circle cx="68.40" cy="73.40" r="1.55" fill="#111"/>
<circle cx="61.25" cy="80.50" r="1.55" fill="#111"/>
<circle cx="68.40" cy="83.00" r="1.55" fill="#111"/>
<circle cx="61.25" cy="92.30" r="1.55" fill="#111"/>
<circle cx="68.40" cy="92.90" r="1.55" fill="#111"/>
<circle cx="64.50" cy="117.30" r="1.55" fill="#111"/>
<line x1="59.20" y1="87.20" x2="69.80" y2="87.20" stroke="#404040" stroke-width="1.0"/>
<line x1="80.60" y1="131.30" x2="80.60" y2="134.10" stroke="#404040" stroke-width="1.0"/>
<line x1="78.10" y1="131.30" x2="83.10" y2="131.30" stroke="#404040" stroke-width="1.0"/>
<line x1="78.10" y1="134.10" x2="83.10" y2="134.10" stroke="#404040" stroke-width="1.0"/>
<circle cx="77.10" cy="128.70" r="1.55" fill="#111"/>
<circle cx="77.10" cy="132.70" r="1.55" fill="#111"/>
<circle cx="77.10" cy="136.00" r="1.55" fill="#111"/>
<circle cx="84.50" cy="131.70" r="1.55" fill="#111"/>
<circle cx="84.50" cy="135.50" r="1.55" fill="#111"/>
<line x1="75.30" y1="132.70" x2="85.90" y2="132.70" stroke="#404040" stroke-width="1.0"/>
<line x1="96.50" y1="85.40" x2="96.50" y2="108.00" stroke="#404040" stroke-width="1.0"/>
<line x1="94.00" y1="85.40" x2="99.00" y2="85.40" stroke="#404040" stroke-width="1.0"/>
<line x1="94.00" y1="108.00" x2="99.00" y2="108.00" stroke="#404040" stroke-width="1.0"/>
<circle cx="96.40" cy="75.00" r="1.55" fill="#111"/>
<circle cx="96.60" cy="101.20" r="1.55" fill="#111"/>
<circle cx="96.60" cy="113.20" r="1.55" fill="#111"/>
<line x1="91.20" y1="96.40" x2="101.80" y2="96.40" stroke="#404040" stroke-width="1.0"/>
<line x1="112.50" y1="130.30" x2="112.50" y2="132.70" stroke="#404040" stroke-width="1.0"/>
<line x1="110.00" y1="130.30" x2="115.00" y2="130.30" stroke="#404040" stroke-width="1.0"/>
<line x1="110.00" y1="132.70" x2="115.00" y2="132.70" stroke="#404040" stroke-width="1.0"/>
<circle cx="112.40" cy="125.20" r="1.55" fill="#111"/>
<circle cx="109.90" cy="130.10" r="1.55" fill="#111"/>
<circle cx="114.80" cy="129.70" r="1.55" fill="#111"/>
<circle cx="108.60" cy="133.40" r="1.55" fill="#111"/>
<circle cx="116.70" cy="131.20" r="1.55" fill="#111"/>
<circle cx="114.50" cy="133.90" r="1.55" fill="#111"/>
<circle cx="111.80" cy="131.40" r="1.55" fill="#111"/>
<line x1="107.20" y1="131.50" x2="117.80" y2="131.50" stroke="#404040" stroke-width="1.0"/>
<line x1="128.40" y1="131.20" x2="128.40" y2="133.80" stroke="#404040" stroke-width="1.0"/>
<line x1="125.90" y1="131.20" x2="130.90" y2="131.20" stroke="#404040" stroke-width="1.0"/>
<line x1="125.90" y1="133.80" x2="130.90" y2="133.80" stroke="#404040" stroke-width="1.0"/>
<circle cx="127.00" cy="127.80" r="1.55" fill="#111"/>
<circle cx="129.80" cy="130.10" r="1.55" fill="#111"/>
<circle cx="126.50" cy="131.80" r="1.55" fill="#111"/>
<circle cx="124.60" cy="133.40" r="1.55" fill="#111"/>
<circle cx="129.20" cy="133.70" r="1.55" fill="#111"/>
<circle cx="132.10" cy="133.70" r="1.55" fill="#111"/>
<circle cx="124.60" cy="137.10" r="1.55" fill="#111"/>
<line x1="123.10" y1="132.50" x2="133.70" y2="132.50" stroke="#404040" stroke-width="1.0"/>
<line x1="186.10" y1="117.50" x2="186.10" y2="121.50" stroke="#404040" stroke-width="1.0"/>
<line x1="183.60" y1="117.50" x2="188.60" y2="117.50" stroke="#404040" stroke-width="1.0"/>
<line x1="183.60" y1="121.50" x2="188.60" y2="121.50" stroke="#404040" stroke-width="1.0"/>
<circle cx="186.30" cy="112.60" r="1.55" fill="#111"/>
<circle cx="182.30" cy="118.00" r="1.55" fill="#111"/>
<circle cx="187.60" cy="117.70" r="1.55" fill="#111"/>
<circle cx="184.80" cy="121.40" r="1.55" fill="#111"/>
<circle cx="187.10" cy="121.40" r="1.55" fill="#111"/>
<circle cx="190.10" cy="120.80" r="1.55" fill="#111"/>
<circle cx="186.10" cy="131.50" r="1.55" fill="#111"/>
<line x1="180.80" y1="119.50" x2="191.40" y2="119.50" stroke="#404040" stroke-width="1.0"/>
<line x1="202.00" y1="77.00" x2="202.00" y2="88.40" stroke="#404040" stroke-width="1.0"/>
<line x1="199.50" y1="77.00" x2="204.50" y2="77.00" stroke="#404040" stroke-width="1.0"/>
<line x1="199.50" y1="88.40" x2="204.50" y2="88.40" stroke="#404040" stroke-width="1.0"/>
<circle cx="198.40" cy="72.00" r="1.55" fill="#111"/>
<circle cx="205.80" cy="73.50" r="1.55" fill="#111"/>
<circle cx="202.00" cy="77.70" r="1.55" fill="#111"/>
<circle cx="202.00" cy="86.60" r="1.55" fill="#111"/>
<circle cx="202.10" cy="103.60" r="1.55" fill="#111"/>
<line x1="196.70" y1="82.60" x2="207.30" y2="82.60" stroke="#404040" stroke-width="1.0"/>
<line x1="217.70" y1="123.70" x2="217.70" y2="128.00" stroke="#404040" stroke-width="1.0"/>
<line x1="215.20" y1="123.70" x2="220.20" y2="123.70" stroke="#404040" stroke-width="1.0"/>
<line x1="215.20" y1="128.00" x2="220.20" y2="128.00" stroke="#404040" stroke-width="1.0"/>
<circle cx="217.90" cy="121.20" r="1.55" fill="#111"/>
<circle cx="214.40" cy="129.30" r="1.55" fill="#111"/>
<circle cx="221.30" cy="127.50" r="1.55" fill="#111"/>
<line x1="212.40" y1="126.10" x2="223.00" y2="126.10" stroke="#404040" stroke-width="1.0"/>
<line x1="233.90" y1="88.10" x2="233.90" y2="98.50" stroke="#404040" stroke-width="1.0"/>
<line x1="231.40" y1="88.10" x2="236.40" y2="88.10" stroke="#404040" stroke-width="1.0"/>
<line x1="231.40" y1="98.50" x2="236.40" y2="98.50" stroke="#404040" stroke-width="1.0"/>
<circle cx="234.00" cy="71.40" r="1.55" fill="#111"/>
<circle cx="234.00" cy="77.50" r="1.55" fill="#111"/>
<circle cx="233.90" cy="83.10" r="1.55" fill="#111"/>
<circle cx="229.90" cy="94.80" r="1.55" fill="#111"/>
<circle cx="237.60" cy="97.50" r="1.55" fill="#111"/>
<circle cx="229.90" cy="100.60" r="1.55" fill="#111"/>
<circle cx="233.90" cy="108.00" r="1.55" fill="#111"/>
<circle cx="234.00" cy="115.20" r="1.55" fill="#111"/>
<line x1="228.60" y1="93.20" x2="239.20" y2="93.20" stroke="#404040" stroke-width="1.0"/>
<line x1="249.70" y1="100.40" x2="249.70" y2="108.90" stroke="#404040" stroke-width="1.0"/>
<line x1="247.20" y1="100.40" x2="252.20" y2="100.40" stroke="#404040" stroke-width="1.0"/>
<line x1="247.20" y1="108.90" x2="252.20" y2="108.90" stroke="#404040" stroke-width="1.0"/>
<circle cx="249.80" cy="85.80" r="1.55" fill="#111"/>
<circle cx="249.70" cy="97.80" r="1.55" fill="#111"/>
<circle cx="249.70" cy="103.00" r="1.55" fill="#111"/>
<circle cx="246.00" cy="105.00" r="1.55" fill="#111"/>
<circle cx="253.60" cy="105.00" r="1.55" fill="#111"/>
<circle cx="249.70" cy="114.60" r="1.55" fill="#111"/>
<circle cx="249.70" cy="121.40" r="1.55" fill="#111"/>
<line x1="244.40" y1="104.50" x2="255.00" y2="104.50" stroke="#404040" stroke-width="1.0"/>
<line x1="308.20" y1="123.50" x2="308.20" y2="127.50" stroke="#404040" stroke-width="1.0"/>
<line x1="305.70" y1="123.50" x2="310.70" y2="123.50" stroke="#404040" stroke-width="1.0"/>
<line x1="305.70" y1="127.50" x2="310.70" y2="127.50" stroke="#404040" stroke-width="1.0"/>
<circle cx="306.30" cy="119.80" r="1.55" fill="#111"/>
<circle cx="310.10" cy="119.80" r="1.55" fill="#111"/>
<circle cx="308.30" cy="124.50" r="1.55" fill="#111"/>
<circle cx="304.30" cy="126.40" r="1.55" fill="#111"/>
<circle cx="312.00" cy="126.40" r="1.55" fill="#111"/>
<circle cx="308.30" cy="128.20" r="1.55" fill="#111"/>
<circle cx="308.30" cy="134.10" r="1.55" fill="#111"/>
<line x1="302.90" y1="125.50" x2="313.50" y2="125.50" stroke="#404040" stroke-width="1.0"/>
<line x1="324.00" y1="122.00" x2="324.00" y2="124.80" stroke="#404040" stroke-width="1.0"/>
<line x1="321.50" y1="122.00" x2="326.50" y2="122.00" stroke="#404040" stroke-width="1.0"/>
<line x1="321.50" y1="124.80" x2="326.50" y2="124.80" stroke="#404040" stroke-width="1.0"/>
<circle cx="320.40" cy="120.50" r="1.55" fill="#111"/>
<circle cx="327.70" cy="121.30" r="1.55" fill="#111"/>
<circle cx="324.70" cy="122.80" r="1.55" fill="#111"/>
<circle cx="327.30" cy="125.30" r="1.55" fill="#111"/>
<circle cx="320.40" cy="127.00" r="1.55" fill="#111"/>
<circle cx="323.50" cy="123.50" r="1.55" fill="#111"/>
<line x1="318.70" y1="123.40" x2="329.30" y2="123.40" stroke="#404040" stroke-width="1.0"/>
<line x1="340.00" y1="124.10" x2="340.00" y2="129.30" stroke="#404040" stroke-width="1.0"/>
<line x1="337.50" y1="124.10" x2="342.50" y2="124.10" stroke="#404040" stroke-width="1.0"/>
<line x1="337.50" y1="129.30" x2="342.50" y2="129.30" stroke="#404040" stroke-width="1.0"/>
<circle cx="336.50" cy="123.00" r="1.55" fill="#111"/>
<circle cx="343.70" cy="123.80" r="1.55" fill="#111"/>
<circle cx="340.30" cy="132.80" r="1.55" fill="#111"/>
<line x1="334.70" y1="126.40" x2="345.30" y2="126.40" stroke="#404040" stroke-width="1.0"/>
<line x1="355.60" y1="85.30" x2="355.60" y2="99.40" stroke="#404040" stroke-width="1.0"/>
<line x1="353.10" y1="85.30" x2="358.10" y2="85.30" stroke="#404040" stroke-width="1.0"/>
<line x1="353.10" y1="99.40" x2="358.10" y2="99.40" stroke="#404040" stroke-width="1.0"/>
<circle cx="355.80" cy="59.60" r="1.55" fill="#111"/>
<circle cx="355.80" cy="70.80" r="1.55" fill="#111"/>
<circle cx="351.90" cy="90.10" r="1.55" fill="#111"/>
<circle cx="359.40" cy="88.40" r="1.55" fill="#111"/>
<circle cx="351.90" cy="103.50" r="1.55" fill="#111"/>
<circle cx="359.40" cy="102.40" r="1.55" fill="#111"/>
<circle cx="351.90" cy="111.70" r="1.55" fill="#111"/>
<circle cx="359.40" cy="111.70" r="1.55" fill="#111"/>
<line x1="350.30" y1="92.50" x2="360.90" y2="92.50" stroke="#404040" stroke-width="1.0"/>
<line x1="371.50" y1="90.80" x2="371.50" y2="99.70" stroke="#404040" stroke-width="1.0"/>
<line x1="369.00" y1="90.80" x2="374.00" y2="90.80" stroke="#404040" stroke-width="1.0"/>
<line x1="369.00" y1="99.70" x2="374.00" y2="99.70" stroke="#404040" stroke-width="1.0"/>
<circle cx="371.50" cy="75.90" r="1.55" fill="#111"/>
<circle cx="368.10" cy="87.60" r="1.55" fill="#111"/>
<circle cx="371.50" cy="89.10" r="1.55" fill="#111"/>
<circle cx="375.50" cy="89.10" r="1.55" fill="#111"/>
<circle cx="375.50" cy="96.90" r="1.55" fill="#111"/>
<circle cx="371.50" cy="99.40" r="1.55" fill="#111"/>
<circle cx="371.80" cy="123.60" r="1.55" fill="#111"/>
<line x1="366.20" y1="94.20" x2="376.80" y2="94.20" stroke="#404040" stroke-width="1.0"/>
<line x1="442.60" y1="75.50" x2="442.60" y2="87.10" stroke="#404040" stroke-width="1.0"/>
<line x1="440.10" y1="75.50" x2="445.10" y2="75.50" stroke="#404040" stroke-width="1.0"/>
<line x1="440.10" y1="87.10" x2="445.10" y2="87.10" stroke="#404040" stroke-width="1.0"/>
<circle cx="442.60" cy="69.90" r="1.55" fill="#111"/>
<circle cx="442.60" cy="76.20" r="1.55" fill="#111"/>
<circle cx="442.60" cy="84.00" r="1.55" fill="#111"/>
<circle cx="442.60" cy="96.70" r="1.55" fill="#111"/>
<line x1="437.30" y1="81.50" x2="447.90" y2="81.50" stroke="#404040" stroke-width="1.0"/>
<line x1="458.40" y1="132.70" x2="458.40" y2="136.30" stroke="#404040" stroke-width="1.0"/>
<line x1="455.90" y1="132.70" x2="460.90" y2="132.70" stroke="#404040" stroke-width="1.0"/>
<line x1="455.90" y1="136.30" x2="460.90" y2="136.30" stroke="#404040" stroke-width="1.0"/>
<circle cx="458.50" cy="127.30" r="1.55" fill="#111"/>
<circle cx="457.00" cy="135.80" r="1.55" fill="#111"/>
<circle cx="459.70" cy="136.10" r="1.55" fill="#111"/>
<circle cx="462.20" cy="136.10" r="1.55" fill="#111"/>
<circle cx="454.60" cy="138.00" r="1.55" fill="#111"/>
<circle cx="462.20" cy="136.90" r="1.55" fill="#111"/>
<line x1="453.10" y1="134.50" x2="463.70" y2="134.50" stroke="#404040" stroke-width="1.0"/>
<line x1="474.00" y1="112.60" x2="474.00" y2="115.40" stroke="#404040" stroke-width="1.0"/>
<line x1="471.50" y1="112.60" x2="476.50" y2="112.60" stroke="#404040" stroke-width="1.0"/>
<line x1="471.50" y1="115.40" x2="476.50" y2="115.40" stroke="#404040" stroke-width="1.0"/>
<circle cx="470.40" cy="108.50" r="1.55" fill="#111"/>
<circle cx="470.40" cy="114.20" r="1.55" fill="#111"/>
<circle cx="477.60" cy="111.50" r="1.55" fill="#111"/>
<circle cx="474.20" cy="115.40" r="1.55" fill="#111"/>
<circle cx="477.60" cy="116.20" r="1.55" fill="#111"/>
<circle cx="470.40" cy="117.70" r="1.55" fill="#111"/>
<line x1="468.70" y1="114.00" x2="479.30" y2="114.00" stroke="#404040" stroke-width="1.0"/>
<line x1="489.80" y1="136.00" x2="489.80" y2="137.20" stroke="#404040" stroke-width="1.0"/>
<line x1="487.30" y1="136.00" x2="492.30" y2="136.00" stroke="#404040" stroke-width="1.0"/>
<line x1="487.30" y1="137.20" x2="492.30" y2="137.20" stroke="#404040" stroke-width="1.0"/>
<circle cx="490.20" cy="133.80" r="1.55" fill="#111"/>
<circle cx="487.40" cy="135.70" r="1.55" fill="#111"/>
<circle cx="485.80" cy="137.50" r="1.55" fill="#111"/>
<circle cx="489.20" cy="136.60" r="1.55" fill="#111"/>
<circle cx="491.70" cy="137.10" r="1.55" fill="#111"/>
<circle cx="494.20" cy="137.40" r="1.55" fill="#111"/>
<circle cx="488.60" cy="138.20" r="1.55" fill="#111"/>
<circle cx="490.80" cy="137.80" r="1.55" fill="#111"/>
<line x1="484.50" y1="136.60" x2="495.10" y2="136.60" stroke="#404040" stroke-width="1.0"/>
<line x1="505.60" y1="137.70" x2="505.60" y2="138.50" stroke="#404040" stroke-width="1.0"/>
<line x1="503.10" y1="137.70" x2="508.10" y2="137.70" stroke="#404040" stroke-width="1.0"/>
<line x1="503.10" y1="138.50" x2="508.10" y2="138.50" stroke="#404040" stroke-width="1.0"/>
<circle cx="501.80" cy="139.10" r="1.55" fill="#111"/>
<circle cx="504.60" cy="137.20" r="1.55" fill="#111"/>
<circle cx="507.10" cy="138.50" r="1.55" fill="#111"/>
<circle cx="509.50" cy="137.80" r="1.55" fill="#111"/>
<circle cx="506.00" cy="138.00" r="1.55" fill="#111"/>
<line x1="500.30" y1="138.10" x2="510.90" y2="138.10" stroke="#404040" stroke-width="1.0"/>
<line x1="63.30" y1="323.00" x2="63.30" y2="326.20" stroke="#404040" stroke-width="1.0"/>
<line x1="60.80" y1="323.00" x2="65.80" y2="323.00" stroke="#404040" stroke-width="1.0"/>
<line x1="60.80" y1="326.20" x2="65.80" y2="326.20" stroke="#404040" stroke-width="1.0"/>
<circle cx="59.70" cy="320.00" r="1.55" fill="#111"/>
<circle cx="63.30" cy="319.30" r="1.55" fill="#111"/>
<circle cx="67.00" cy="322.40" r="1.55" fill="#111"/>
<circle cx="59.70" cy="325.30" r="1.55" fill="#111"/>
<circle cx="63.30" cy="326.90" r="1.55" fill="#111"/>
<circle cx="67.00" cy="327.60" r="1.55" fill="#111"/>
<circle cx="59.70" cy="330.70" r="1.55" fill="#111"/>
<line x1="58.00" y1="324.60" x2="68.60" y2="324.60" stroke="#404040" stroke-width="1.0"/>
<line x1="79.20" y1="322.10" x2="79.20" y2="326.50" stroke="#404040" stroke-width="1.0"/>
<line x1="76.70" y1="322.10" x2="81.70" y2="322.10" stroke="#404040" stroke-width="1.0"/>
<line x1="76.70" y1="326.50" x2="81.70" y2="326.50" stroke="#404040" stroke-width="1.0"/>
<circle cx="79.20" cy="316.10" r="1.55" fill="#111"/>
<circle cx="78.10" cy="324.80" r="1.55" fill="#111"/>
<circle cx="80.80" cy="325.80" r="1.55" fill="#111"/>
<circle cx="82.90" cy="325.20" r="1.55" fill="#111"/>
<circle cx="75.60" cy="327.90" r="1.55" fill="#111"/>
<circle cx="80.20" cy="326.60" r="1.55" fill="#111"/>
<line x1="73.90" y1="324.50" x2="84.50" y2="324.50" stroke="#404040" stroke-width="1.0"/>
<line x1="95.00" y1="321.40" x2="95.00" y2="325.80" stroke="#404040" stroke-width="1.0"/>
<line x1="92.50" y1="321.40" x2="97.50" y2="321.40" stroke="#404040" stroke-width="1.0"/>
<line x1="92.50" y1="325.80" x2="97.50" y2="325.80" stroke="#404040" stroke-width="1.0"/>
<circle cx="91.25" cy="319.60" r="1.55" fill="#111"/>
<circle cx="98.75" cy="320.00" r="1.55" fill="#111"/>
<circle cx="94.90" cy="329.00" r="1.55" fill="#111"/>
<line x1="89.70" y1="323.10" x2="100.30" y2="323.10" stroke="#404040" stroke-width="1.0"/>
<line x1="111.20" y1="295.50" x2="111.20" y2="306.70" stroke="#404040" stroke-width="1.0"/>
<line x1="108.70" y1="295.50" x2="113.70" y2="295.50" stroke="#404040" stroke-width="1.0"/>
<line x1="108.70" y1="306.70" x2="113.70" y2="306.70" stroke="#404040" stroke-width="1.0"/>
<circle cx="111.20" cy="270.40" r="1.55" fill="#111"/>
<circle cx="111.20" cy="285.30" r="1.55" fill="#111"/>
<circle cx="107.40" cy="298.30" r="1.55" fill="#111"/>
<circle cx="114.50" cy="296.10" r="1.55" fill="#111"/>
<circle cx="111.20" cy="310.40" r="1.55" fill="#111"/>
<circle cx="107.40" cy="314.10" r="1.55" fill="#111"/>
<circle cx="114.50" cy="314.10" r="1.55" fill="#111"/>
<circle cx="111.20" cy="319.40" r="1.55" fill="#111"/>
<line x1="105.90" y1="301.50" x2="116.50" y2="301.50" stroke="#404040" stroke-width="1.0"/>
<line x1="127.00" y1="287.10" x2="127.00" y2="298.90" stroke="#404040" stroke-width="1.0"/>
<line x1="124.50" y1="287.10" x2="129.50" y2="287.10" stroke="#404040" stroke-width="1.0"/>
<line x1="124.50" y1="298.90" x2="129.50" y2="298.90" stroke="#404040" stroke-width="1.0"/>
<circle cx="127.00" cy="276.00" r="1.55" fill="#111"/>
<circle cx="123.30" cy="284.30" r="1.55" fill="#111"/>
<circle cx="130.20" cy="283.80" r="1.55" fill="#111"/>
<circle cx="127.00" cy="289.90" r="1.55" fill="#111"/>
<circle cx="127.00" cy="294.60" r="1.55" fill="#111"/>
<circle cx="127.00" cy="298.30" r="1.55" fill="#111"/>
<circle cx="127.00" cy="322.50" r="1.55" fill="#111"/>
<line x1="121.70" y1="292.70" x2="132.30" y2="292.70" stroke="#404040" stroke-width="1.0"/>
<line x1="186.00" y1="323.20" x2="186.00" y2="325.80" stroke="#404040" stroke-width="1.0"/>
<line x1="183.50" y1="323.20" x2="188.50" y2="323.20" stroke="#404040" stroke-width="1.0"/>
<line x1="183.50" y1="325.80" x2="188.50" y2="325.80" stroke="#404040" stroke-width="1.0"/>
<circle cx="185.20" cy="319.80" r="1.55" fill="#111"/>
<circle cx="187.50" cy="322.10" r="1.55" fill="#111"/>
<circle cx="182.25" cy="323.75" r="1.55" fill="#111"/>
<circle cx="185.20" cy="324.00" r="1.55" fill="#111"/>
<circle cx="189.50" cy="324.50" r="1.55" fill="#111"/>
<circle cx="187.25" cy="325.50" r="1.55" fill="#111"/>
<circle cx="185.20" cy="325.80" r="1.55" fill="#111"/>
<circle cx="186.10" cy="331.50" r="1.55" fill="#111"/>
<line x1="180.70" y1="324.50" x2="191.30" y2="324.50" stroke="#404040" stroke-width="1.0"/>
<line x1="201.80" y1="330.40" x2="201.80" y2="332.00" stroke="#404040" stroke-width="1.0"/>
<line x1="199.30" y1="330.40" x2="204.30" y2="330.40" stroke="#404040" stroke-width="1.0"/>
<line x1="199.30" y1="332.00" x2="204.30" y2="332.00" stroke="#404040" stroke-width="1.0"/>
<circle cx="203.30" cy="328.30" r="1.55" fill="#111"/>
<circle cx="198.70" cy="330.20" r="1.55" fill="#111"/>
<circle cx="201.50" cy="331.00" r="1.55" fill="#111"/>
<circle cx="205.70" cy="331.25" r="1.55" fill="#111"/>
<circle cx="198.40" cy="333.50" r="1.55" fill="#111"/>
<circle cx="203.30" cy="333.10" r="1.55" fill="#111"/>
<line x1="196.50" y1="331.20" x2="207.10" y2="331.20" stroke="#404040" stroke-width="1.0"/>
<line x1="217.90" y1="316.50" x2="217.90" y2="324.50" stroke="#404040" stroke-width="1.0"/>
<line x1="215.40" y1="316.50" x2="220.40" y2="316.50" stroke="#404040" stroke-width="1.0"/>
<line x1="215.40" y1="324.50" x2="220.40" y2="324.50" stroke="#404040" stroke-width="1.0"/>
<circle cx="214.30" cy="315.80" r="1.55" fill="#111"/>
<circle cx="221.60" cy="317.50" r="1.55" fill="#111"/>
<circle cx="217.90" cy="328.30" r="1.55" fill="#111"/>
<line x1="212.60" y1="320.50" x2="223.20" y2="320.50" stroke="#404040" stroke-width="1.0"/>
<line x1="233.60" y1="303.00" x2="233.60" y2="313.20" stroke="#404040" stroke-width="1.0"/>
<line x1="231.10" y1="303.00" x2="236.10" y2="303.00" stroke="#404040" stroke-width="1.0"/>
<line x1="231.10" y1="313.20" x2="236.10" y2="313.20" stroke="#404040" stroke-width="1.0"/>
<circle cx="233.50" cy="283.40" r="1.55" fill="#111"/>
<circle cx="233.50" cy="300.70" r="1.55" fill="#111"/>
<circle cx="229.80" cy="306.30" r="1.55" fill="#111"/>
<circle cx="237.80" cy="304.50" r="1.55" fill="#111"/>
<circle cx="237.80" cy="309.50" r="1.55" fill="#111"/>
<circle cx="233.50" cy="313.80" r="1.55" fill="#111"/>
<circle cx="230.40" cy="323.50" r="1.55" fill="#111"/>
<circle cx="237.30" cy="323.10" r="1.55" fill="#111"/>
<line x1="228.30" y1="307.60" x2="238.90" y2="307.60" stroke="#404040" stroke-width="1.0"/>
<line x1="249.60" y1="283.40" x2="249.60" y2="294.00" stroke="#404040" stroke-width="1.0"/>
<line x1="247.10" y1="283.40" x2="252.10" y2="283.40" stroke="#404040" stroke-width="1.0"/>
<line x1="247.10" y1="294.00" x2="252.10" y2="294.00" stroke="#404040" stroke-width="1.0"/>
<circle cx="249.60" cy="267.20" r="1.55" fill="#111"/>
<circle cx="249.60" cy="277.30" r="1.55" fill="#111"/>
<circle cx="249.60" cy="281.60" r="1.55" fill="#111"/>
<circle cx="249.60" cy="286.20" r="1.55" fill="#111"/>
<circle cx="246.20" cy="291.80" r="1.55" fill="#111"/>
<circle cx="253.30" cy="294.00" r="1.55" fill="#111"/>
<circle cx="249.60" cy="319.40" r="1.55" fill="#111"/>
<line x1="244.30" y1="288.40" x2="254.90" y2="288.40" stroke="#404040" stroke-width="1.0"/>
<line x1="307.90" y1="326.00" x2="307.90" y2="328.00" stroke="#404040" stroke-width="1.0"/>
<line x1="305.40" y1="326.00" x2="310.40" y2="326.00" stroke="#404040" stroke-width="1.0"/>
<line x1="305.40" y1="328.00" x2="310.40" y2="328.00" stroke="#404040" stroke-width="1.0"/>
<circle cx="309.60" cy="322.70" r="1.55" fill="#111"/>
<circle cx="307.20" cy="323.90" r="1.55" fill="#111"/>
<circle cx="304.50" cy="326.25" r="1.55" fill="#111"/>
<circle cx="306.80" cy="326.80" r="1.55" fill="#111"/>
<circle cx="309.20" cy="327.80" r="1.55" fill="#111"/>
<circle cx="311.90" cy="328.00" r="1.55" fill="#111"/>
<circle cx="310.40" cy="328.60" r="1.55" fill="#111"/>
<circle cx="304.50" cy="331.00" r="1.55" fill="#111"/>
<line x1="302.60" y1="327.00" x2="313.20" y2="327.00" stroke="#404040" stroke-width="1.0"/>
<line x1="324.20" y1="312.90" x2="324.20" y2="317.40" stroke="#404040" stroke-width="1.0"/>
<line x1="321.70" y1="312.90" x2="326.70" y2="312.90" stroke="#404040" stroke-width="1.0"/>
<line x1="321.70" y1="317.40" x2="326.70" y2="317.40" stroke="#404040" stroke-width="1.0"/>
<circle cx="324.20" cy="309.70" r="1.55" fill="#111"/>
<circle cx="320.40" cy="312.90" r="1.55" fill="#111"/>
<circle cx="328.10" cy="313.60" r="1.55" fill="#111"/>
<circle cx="324.20" cy="316.00" r="1.55" fill="#111"/>
<circle cx="324.20" cy="324.20" r="1.55" fill="#111"/>
<line x1="318.90" y1="314.70" x2="329.50" y2="314.70" stroke="#404040" stroke-width="1.0"/>
<line x1="339.80" y1="332.30" x2="339.80" y2="333.70" stroke="#404040" stroke-width="1.0"/>
<line x1="337.30" y1="332.30" x2="342.30" y2="332.30" stroke="#404040" stroke-width="1.0"/>
<line x1="337.30" y1="333.70" x2="342.30" y2="333.70" stroke="#404040" stroke-width="1.0"/>
<circle cx="336.30" cy="330.40" r="1.55" fill="#111"/>
<circle cx="338.70" cy="333.00" r="1.55" fill="#111"/>
<circle cx="341.00" cy="333.00" r="1.55" fill="#111"/>
<circle cx="343.40" cy="333.00" r="1.55" fill="#111"/>
<circle cx="336.30" cy="334.50" r="1.55" fill="#111"/>
<line x1="334.50" y1="333.00" x2="345.10" y2="333.00" stroke="#404040" stroke-width="1.0"/>
<line x1="355.90" y1="285.40" x2="355.90" y2="297.50" stroke="#404040" stroke-width="1.0"/>
<line x1="353.40" y1="285.40" x2="358.40" y2="285.40" stroke="#404040" stroke-width="1.0"/>
<line x1="353.40" y1="297.50" x2="358.40" y2="297.50" stroke="#404040" stroke-width="1.0"/>
<circle cx="355.90" cy="265.50" r="1.55" fill="#111"/>
<circle cx="355.90" cy="269.60" r="1.55" fill="#111"/>
<circle cx="355.90" cy="286.80" r="1.55" fill="#111"/>
<circle cx="355.90" cy="292.00" r="1.55" fill="#111"/>
<circle cx="355.90" cy="296.00" r="1.55" fill="#111"/>
<circle cx="352.20" cy="302.30" r="1.55" fill="#111"/>
<circle cx="359.50" cy="305.40" r="1.55" fill="#111"/>
<circle cx="355.70" cy="313.50" r="1.55" fill="#111"/>
<line x1="350.60" y1="291.80" x2="361.20" y2="291.80" stroke="#404040" stroke-width="1.0"/>
<line x1="371.40" y1="322.70" x2="371.40" y2="325.00" stroke="#404040" stroke-width="1.0"/>
<line x1="368.90" y1="322.70" x2="373.90" y2="322.70" stroke="#404040" stroke-width="1.0"/>
<line x1="368.90" y1="325.00" x2="373.90" y2="325.00" stroke="#404040" stroke-width="1.0"/>
<circle cx="369.80" cy="320.00" r="1.55" fill="#111"/>
<circle cx="375.00" cy="322.30" r="1.55" fill="#111"/>
<circle cx="367.90" cy="326.20" r="1.55" fill="#111"/>
<circle cx="375.40" cy="326.50" r="1.55" fill="#111"/>
<circle cx="371.20" cy="323.80" r="1.55" fill="#111"/>
<circle cx="367.70" cy="324.20" r="1.55" fill="#111"/>
<line x1="366.10" y1="323.80" x2="376.70" y2="323.80" stroke="#404040" stroke-width="1.0"/>
<line x1="442.60" y1="319.10" x2="442.60" y2="325.00" stroke="#404040" stroke-width="1.0"/>
<line x1="440.10" y1="319.10" x2="445.10" y2="319.10" stroke="#404040" stroke-width="1.0"/>
<line x1="440.10" y1="325.00" x2="445.10" y2="325.00" stroke="#404040" stroke-width="1.0"/>
<circle cx="442.60" cy="316.80" r="1.55" fill="#111"/>
<circle cx="442.60" cy="323.00" r="1.55" fill="#111"/>
<circle cx="442.60" cy="326.20" r="1.55" fill="#111"/>
<line x1="437.30" y1="321.50" x2="447.90" y2="321.50" stroke="#404040" stroke-width="1.0"/>
<line x1="458.30" y1="278.10" x2="458.30" y2="296.60" stroke="#404040" stroke-width="1.0"/>
<line x1="455.80" y1="278.10" x2="460.80" y2="278.10" stroke="#404040" stroke-width="1.0"/>
<line x1="455.80" y1="296.60" x2="460.80" y2="296.60" stroke="#404040" stroke-width="1.0"/>
<circle cx="458.30" cy="256.20" r="1.55" fill="#111"/>
<circle cx="454.60" cy="284.50" r="1.55" fill="#111"/>
<circle cx="462.00" cy="283.20" r="1.55" fill="#111"/>
<circle cx="454.80" cy="306.50" r="1.55" fill="#111"/>
<circle cx="461.80" cy="306.50" r="1.55" fill="#111"/>
<line x1="453.00" y1="287.30" x2="463.60" y2="287.30" stroke="#404040" stroke-width="1.0"/>
<circle cx="470.30" cy="336.30" r="1.55" fill="#111"/>
<circle cx="472.30" cy="336.30" r="1.55" fill="#111"/>
<circle cx="474.30" cy="336.30" r="1.55" fill="#111"/>
<circle cx="476.30" cy="336.30" r="1.55" fill="#111"/>
<circle cx="478.00" cy="336.30" r="1.55" fill="#111"/>
<line x1="490.00" y1="304.50" x2="490.00" y2="310.00" stroke="#404040" stroke-width="1.0"/>
<line x1="487.50" y1="304.50" x2="492.50" y2="304.50" stroke="#404040" stroke-width="1.0"/>
<line x1="487.50" y1="310.00" x2="492.50" y2="310.00" stroke="#404040" stroke-width="1.0"/>
<circle cx="490.10" cy="290.50" r="1.55" fill="#111"/>
<circle cx="486.30" cy="301.70" r="1.55" fill="#111"/>
<circle cx="493.70" cy="299.70" r="1.55" fill="#111"/>
<circle cx="486.30" cy="305.50" r="1.55" fill="#111"/>
<circle cx="493.70" cy="304.80" r="1.55" fill="#111"/>
<circle cx="486.30" cy="312.60" r="1.55" fill="#111"/>
<circle cx="493.50" cy="312.00" r="1.55" fill="#111"/>
<circle cx="490.10" cy="318.90" r="1.55" fill="#111"/>
<circle cx="490.10" cy="323.20" r="1.55" fill="#111"/>
<line x1="484.70" y1="307.40" x2="495.30" y2="307.40" stroke="#404040" stroke-width="1.0"/>
<circle cx="501.80" cy="336.30" r="1.55" fill="#111"/>
<circle cx="504.20" cy="336.30" r="1.55" fill="#111"/>
<circle cx="507.00" cy="336.30" r="1.55" fill="#111"/>
<circle cx="509.80" cy="336.30" r="1.55" fill="#111"/>
<polyline points="64.60,63.50 64.60,60.70 80.80,60.70 80.80,63.50" fill="none" stroke="#404040" stroke-width="1.0"/>
<circle cx="69.50" cy="56.30" r="1.2" fill="#1a1a1a"/>
<circle cx="73.10" cy="56.30" r="1.2" fill="#1a1a1a"/>
<circle cx="76.70" cy="56.30" r="1.2" fill="#1a1a1a"/>
<polyline points="64.60,48.90 64.60,44.30 120.00,44.30 120.00,64.50" fill="none" stroke="#404040" stroke-width="1.0"/>
<polyline points="107.40,64.50 132.60,64.50" fill="none" stroke="#404040" stroke-width="1.0"/>
<circle cx="88.70" cy="40.00" r="1.2" fill="#1a1a1a"/>
<circle cx="92.30" cy="40.00" r="1.2" fill="#1a1a1a"/>
<circle cx="95.90" cy="40.00" r="1.2" fill="#1a1a1a"/>
<polyline points="201.40,17.10 201.40,13.90 249.50,13.90 249.50,17.10" fill="none" stroke="#404040" stroke-width="1.0"/>
<circle cx="225.40" cy="9.50" r="1.2" fill="#1a1a1a"/>
<polyline points="186.20,32.60 186.20,29.90 234.30,29.90 234.30,32.60" fill="none" stroke="#404040" stroke-width="1.0"/>
<circle cx="206.70" cy="25.00" r="1.2" fill="#1a1a1a"/>
<circle cx="210.30" cy="25.00" r="1.2" fill="#1a1a1a"/>
<circle cx="213.90" cy="25.00" r="1.2" fill="#1a1a1a"/>
<polyline points="201.70,48.30 201.70,45.40 218.30,45.40 218.30,48.30" fill="none" stroke="#404040" stroke-width="1.0"/>
<circle cx="204.90" cy="40.60" r="1.2" fill="#1a1a1a"/>
<circle cx="208.50" cy="40.60" r="1.2" fill="#1a1a1a"/>
<circle cx="212.10" cy="40.60" r="1.2" fill="#1a1a1a"/>
<circle cx="215.70" cy="40.60" r="1.2" fill="#1a1a1a"/>
<polyline points="186.20,64.00 186.20,61.10 201.70,61.10 201.70,64.00" fill="none" stroke="#404040" stroke-width="1.0"/>
<circle cx="188.50" cy="56.60" r="1.2" fill="#1a1a1a"/>
<circle cx="192.10" cy="56.60" r="1.2" fill="#1a1a1a"/>
<circle cx="195.70" cy="56.60" r="1.2" fill="#1a1a1a"/>
<circle cx="199.30" cy="56.60" r="1.2" fill="#1a1a1a"/>
<polyline points="217.80,64.00 217.80,61.10 234.30,61.10 234.30,64.00" fill="none" stroke="#404040" stroke-width="1.0"/>
<circle cx="222.40" cy="56.60" r="1.2" fill="#1a1a1a"/>
<circle cx="226.00" cy="56.60" r="1.2" fill="#1a1a1a"/>
<circle cx="229.60" cy="56.60" r="1.2" fill="#1a1a1a"/>
<polyline points="308.20,69.40 308.20,14.80 362.40,14.80 362.40,20.10" fill="none" stroke="#404040" stroke-width="1.0"/>
<polyline points="349.90,20.10 375.60,20.10" fill="none" stroke="#404040" stroke-width="1.0"/>
<circle cx="333.50" cy="10.70" r="1.2" fill="#1a1a1a"/>
<circle cx="337.10" cy="10.70" r="1.2" fill="#1a1a1a"/>
<polyline points="324.00,69.40 324.00,32.30 362.40,32.30 362.40,38.00" fill="none" stroke="#404040" stroke-width="1.0"/>
<polyline points="349.90,38.00 375.60,38.00" fill="none" stroke="#404040" stroke-width="1.0"/>
<circle cx="341.30" cy="27.70" r="1.2" fill="#1a1a1a"/>
<circle cx="344.90" cy="27.70" r="1.2" fill="#1a1a1a"/>
<polyline points="339.90,69.40 339.90,49.30 362.60,49.30 362.60,54.60" fill="none" stroke="#404040" stroke-width="1.0"/>
<polyline points="349.90,54.60 375.60,54.60" fill="none" stroke="#404040" stroke-width="1.0"/>
<circle cx="349.60" cy="44.80" r="1.2" fill="#1a1a1a"/>
<circle cx="353.20" cy="44.80" r="1.2" fill="#1a1a1a"/>
<polyline points="442.20,46.40 442.20,44.00 497.20,44.00 497.20,57.10" fill="none" stroke="#404040" stroke-width="1.0"/>
<polyline points="485.90,57.10 509.60,57.10" fill="none" stroke="#404040" stroke-width="1.0"/>
<circle cx="468.10" cy="39.20" r="1.2" fill="#1a1a1a"/>
<circle cx="471.70" cy="39.20" r="1.2" fill="#1a1a1a"/>
<polyline points="442.20,61.20 442.20,58.80 464.40,58.80 464.40,81.80" fill="none" stroke="#404040" stroke-width="1.0"/>
<polyline points="452.80,81.80 476.10,81.80" fill="none" stroke="#404040" stroke-width="1.0"/>
<circle cx="451.70" cy="54.20" r="1.2" fill="#1a1a1a"/>
<circle cx="455.30" cy="54.20" r="1.2" fill="#1a1a1a"/>
<polyline points="473.60,74.80 473.60,72.50 497.20,72.50 497.20,95.30" fill="none" stroke="#404040" stroke-width="1.0"/>
<polyline points="485.90,95.30 509.60,95.30" fill="none" stroke="#404040" stroke-width="1.0"/>
<circle cx="479.90" cy="68.00" r="1.2" fill="#1a1a1a"/>
<circle cx="483.50" cy="68.00" r="1.2" fill="#1a1a1a"/>
<circle cx="487.10" cy="68.00" r="1.2" fill="#1a1a1a"/>
<circle cx="490.70" cy="68.00" r="1.2" fill="#1a1a1a"/>
<polyline points="458.00,97.40 458.00,95.10 474.00,95.10 474.00,97.40" fill="none" stroke="#404040" stroke-width="1.0"/>
<circle cx="460.40" cy="90.60" r="1.2" fill="#1a1a1a"/>
<circle cx="464.00" cy="90.60" r="1.2" fill="#1a1a1a"/>
<circle cx="467.60" cy="90.60" r="1.2" fill="#1a1a1a"/>
<circle cx="471.20" cy="90.60" r="1.2" fill="#1a1a1a"/>
<polyline points="126.50,265.40 126.50,262.30 78.40,262.30 78.40,279.20" fill="none" stroke="#404040" stroke-width="1.0"/>
<polyline points="58.80,279.20 98.40,279.20" fill="none" stroke="#404040" stroke-width="1.0"/>
<circle cx="102.70" cy="258.00" r="1.2" fill="#1a1a1a"/>
<polyline points="250.10,232.50 250.10,229.60 193.80,229.60 193.80,245.30" fill="none" stroke="#404040" stroke-width="1.0"/>
<polyline points="181.90,245.30 206.90,245.30" fill="none" stroke="#404040" stroke-width="1.0"/>
<circle cx="218.60" cy="226.10" r="1.2" fill="#1a1a1a"/>
<circle cx="222.20" cy="226.10" r="1.2" fill="#1a1a1a"/>
<circle cx="225.80" cy="226.10" r="1.2" fill="#1a1a1a"/>
<polyline points="218.40,245.30 218.40,242.60 250.10,242.60 250.10,245.30" fill="none" stroke="#404040" stroke-width="1.0"/>
<circle cx="232.30" cy="238.60" r="1.2" fill="#1a1a1a"/>
<circle cx="235.90" cy="238.60" r="1.2" fill="#1a1a1a"/>
<polyline points="186.10,260.30 186.10,257.40 231.40,257.40 231.40,260.30" fill="none" stroke="#404040" stroke-width="1.0"/>
<circle cx="207.40" cy="253.00" r="1.2" fill="#1a1a1a"/>
<circle cx="211.00" cy="253.00" r="1.2" fill="#1a1a1a"/>
<polyline points="235.30,260.30 235.30,257.40 249.50,257.40 249.50,260.30" fill="none" stroke="#404040" stroke-width="1.0"/>
<circle cx="242.40" cy="253.00" r="1.2" fill="#1a1a1a"/>
<polyline points="186.10,276.00 186.10,273.40 201.10,273.40 201.10,276.00" fill="none" stroke="#404040" stroke-width="1.0"/>
<circle cx="191.60" cy="268.90" r="1.2" fill="#1a1a1a"/>
<circle cx="195.20" cy="268.90" r="1.2" fill="#1a1a1a"/>
<polyline points="202.10,276.00 202.10,273.40 231.80,273.40 231.80,276.00" fill="none" stroke="#404040" stroke-width="1.0"/>
<circle cx="215.10" cy="268.90" r="1.2" fill="#1a1a1a"/>
<circle cx="218.70" cy="268.90" r="1.2" fill="#1a1a1a"/>
<polyline points="372.90,203.10 372.90,200.60 316.20,200.60 316.20,203.50" fill="none" stroke="#404040" stroke-width="1.0"/>
<polyline points="302.80,203.50 327.80,203.50" fill="none" stroke="#404040" stroke-width="1.0"/>
<circle cx="344.40" cy="196.20" r="1.2" fill="#1a1a1a"/>
<polyline points="308.00,218.50 308.00,216.00 355.20,216.00 355.20,218.50" fill="none" stroke="#404040" stroke-width="1.0"/>
<circle cx="328.00" cy="211.60" r="1.2" fill="#1a1a1a"/>
<circle cx="331.60" cy="211.60" r="1.2" fill="#1a1a1a"/>
<circle cx="335.20" cy="211.60" r="1.2" fill="#1a1a1a"/>
<polyline points="323.50,230.60 323.50,228.10 355.20,228.10 355.20,230.60" fill="none" stroke="#404040" stroke-width="1.0"/>
<circle cx="337.50" cy="223.70" r="1.2" fill="#1a1a1a"/>
<circle cx="341.10" cy="223.70" r="1.2" fill="#1a1a1a"/>
<polyline points="308.00,244.50 308.00,241.90 339.30,241.90 339.30,244.50" fill="none" stroke="#404040" stroke-width="1.0"/>
<circle cx="323.30" cy="237.70" r="1.2" fill="#1a1a1a"/>
<polyline points="341.80,244.50 341.80,241.90 372.50,241.90 372.50,244.50" fill="none" stroke="#404040" stroke-width="1.0"/>
<circle cx="355.70" cy="237.70" r="1.2" fill="#1a1a1a"/>
<circle cx="359.30" cy="237.70" r="1.2" fill="#1a1a1a"/>
<polyline points="307.60,258.20 307.60,255.30 322.60,255.30 322.60,258.20" fill="none" stroke="#404040" stroke-width="1.0"/>
<circle cx="313.10" cy="251.10" r="1.2" fill="#1a1a1a"/>
<circle cx="316.70" cy="251.10" r="1.2" fill="#1a1a1a"/>
<polyline points="323.90,258.20 323.90,255.30 338.70,255.30 338.70,258.20" fill="none" stroke="#404040" stroke-width="1.0"/>
<circle cx="328.00" cy="251.10" r="1.2" fill="#1a1a1a"/>
<circle cx="331.60" cy="251.10" r="1.2" fill="#1a1a1a"/>
<circle cx="335.20" cy="251.10" r="1.2" fill="#1a1a1a"/>
<polyline points="340.20,258.20 340.20,255.30 354.00,255.30 354.00,258.20" fill="none" stroke="#404040" stroke-width="1.0"/>
<circle cx="343.30" cy="251.10" r="1.2" fill="#1a1a1a"/>
<circle cx="346.90" cy="251.10" r="1.2" fill="#1a1a1a"/>
<circle cx="350.50" cy="251.10" r="1.2" fill="#1a1a1a"/>
<polyline points="355.60,258.20 355.60,255.30 371.90,255.30 371.90,258.20" fill="none" stroke="#404040" stroke-width="1.0"/>
<circle cx="360.60" cy="251.10" r="1.2" fill="#1a1a1a"/>
<circle cx="364.20" cy="251.10" r="1.2" fill="#1a1a1a"/>
<circle cx="367.80" cy="251.10" r="1.2" fill="#1a1a1a"/>
<polyline points="441.30,237.00 441.30,234.50 489.40,234.50 489.40,237.00" fill="none" stroke="#404040" stroke-width="1.0"/>
<circle cx="465.60" cy="230.10" r="1.2" fill="#1a1a1a"/>
<polyline points="441.30,251.40 441.30,249.50 457.50,249.50 457.50,251.40" fill="none" stroke="#404040" stroke-width="1.0"/>
<circle cx="449.80" cy="244.50" r="1.2" fill="#1a1a1a"/>
<text x="474.30" y="331.60" font-size="7.4" text-anchor="middle" font-weight="normal" font-style="normal" fill="#222" stroke="#222" stroke-width="0.12">ND</text>
<text x="505.80" y="331.60" font-size="7.4" text-anchor="middle" font-weight="normal" font-style="normal" fill="#222" stroke="#222" stroke-width="0.12">ND</text>
<text x="6.30" y="14.60" font-size="11.4" text-anchor="start" font-weight="bold" font-style="normal" fill="#111" stroke="#111" stroke-width="0.35">A</text>
<text x="401.60" y="14.60" font-size="11.4" text-anchor="start" font-weight="bold" font-style="normal" fill="#111" stroke="#111" stroke-width="0.35">B</text>
<text x="27.60" y="14.60" font-size="9" text-anchor="start" font-weight="bold" font-style="normal" fill="#111" stroke="#111" stroke-width="0.25">i</text>
<text x="152.70" y="14.60" font-size="9" text-anchor="start" font-weight="bold" font-style="normal" fill="#111" stroke="#111" stroke-width="0.25">ii</text>
<text x="270.20" y="14.60" font-size="9" text-anchor="start" font-weight="bold" font-style="normal" fill="#111" stroke="#111" stroke-width="0.25">iii</text>
<text x="27.70" y="195.20" font-size="9" text-anchor="start" font-weight="bold" font-style="normal" fill="#111" stroke="#111" stroke-width="0.25">iv</text>
<text x="153.60" y="195.20" font-size="9" text-anchor="start" font-weight="bold" font-style="normal" fill="#111" stroke="#111" stroke-width="0.25">v</text>
<text x="270.00" y="196.00" font-size="9" text-anchor="start" font-weight="bold" font-style="normal" fill="#111" stroke="#111" stroke-width="0.25">vi</text>
<text transform="translate(34.40,119.70) rotate(-90)" font-size="8.8" font-weight="bold" fill="#222" textLength="26.40" lengthAdjust="spacingAndGlyphs">MEP/liver</text>
<text transform="translate(34.40,90.90) rotate(-90)" font-size="10.2" font-weight="normal" fill="#222" textLength="19.70" lengthAdjust="spacingAndGlyphs">(&#215;10<tspan font-size="7" dy="-3.9">5</tspan><tspan dy="3.9">)</tspan></text>
<text transform="translate(160.80,120.60) rotate(-90)" font-size="8.8" font-weight="bold" fill="#222" textLength="27.00" lengthAdjust="spacingAndGlyphs">CMP/liver</text>
<text transform="translate(160.80,91.20) rotate(-90)" font-size="10.2" font-weight="normal" fill="#222" textLength="19.70" lengthAdjust="spacingAndGlyphs">(&#215;10<tspan font-size="7" dy="-3.9">5</tspan><tspan dy="3.9">)</tspan></text>
<text transform="translate(277.20,120.20) rotate(-90)" font-size="8.8" font-weight="bold" fill="#222" textLength="26.60" lengthAdjust="spacingAndGlyphs">GMP/liver</text>
<text transform="translate(277.20,91.20) rotate(-90)" font-size="10.2" font-weight="normal" fill="#222" textLength="19.70" lengthAdjust="spacingAndGlyphs">(&#215;10<tspan font-size="7" dy="-3.9">5</tspan><tspan dy="3.9">)</tspan></text>
<text transform="translate(36.40,325.60) rotate(-90)" font-size="8.8" font-weight="bold" fill="#222" textLength="45.50" lengthAdjust="spacingAndGlyphs">Ly6C<tspan font-size="5.6" dy="-3.3">&#8722;</tspan><tspan dy="3.3"> GMP/liver</tspan></text>
<text transform="translate(36.40,277.70) rotate(-90)" font-size="10.2" font-weight="normal" fill="#222" textLength="19.70" lengthAdjust="spacingAndGlyphs">(&#215;10<tspan font-size="7" dy="-3.9">5</tspan><tspan dy="3.9">)</tspan></text>
<text transform="translate(160.00,314.70) rotate(-90)" font-size="8.8" font-weight="bold" fill="#222" textLength="22.80" lengthAdjust="spacingAndGlyphs">GP/liver</text>
<text transform="translate(160.00,289.50) rotate(-90)" font-size="10.2" font-weight="normal" fill="#222" textLength="19.70" lengthAdjust="spacingAndGlyphs">(&#215;10<tspan font-size="7" dy="-3.9">5</tspan><tspan dy="3.9">)</tspan></text>
<text transform="translate(279.40,314.70) rotate(-90)" font-size="8.8" font-weight="bold" fill="#222" textLength="23.00" lengthAdjust="spacingAndGlyphs">MP/liver</text>
<text transform="translate(279.40,289.30) rotate(-90)" font-size="10.2" font-weight="normal" fill="#222" textLength="19.70" lengthAdjust="spacingAndGlyphs">(&#215;10<tspan font-size="7" dy="-3.9">5</tspan><tspan dy="3.9">)</tspan></text>
<text transform="translate(410.00,138.80) rotate(-90)" font-size="9.0" font-weight="normal" fill="#222" textLength="24.10" lengthAdjust="spacingAndGlyphs">Gata2</text>
<text transform="translate(410.00,113.60) rotate(-90)" font-size="8.4" font-weight="bold" fill="#222" textLength="17.10" lengthAdjust="spacingAndGlyphs">mRNA</text>
<text transform="translate(410.00,94.60) rotate(-90)" font-size="8.4" font-weight="bold" fill="#222" textLength="42.20" lengthAdjust="spacingAndGlyphs">(relative units)</text>
<text transform="translate(416.60,329.40) rotate(-90)" font-size="8.8" font-weight="normal" fill="#222" textLength="13.20" lengthAdjust="spacingAndGlyphs">Irf8</text>
<text transform="translate(416.60,314.70) rotate(-90)" font-size="8.4" font-weight="bold" fill="#222" textLength="15.40" lengthAdjust="spacingAndGlyphs">mRNA</text>
<text transform="translate(416.60,296.90) rotate(-90)" font-size="8.4" font-weight="bold" fill="#222" textLength="42.40" lengthAdjust="spacingAndGlyphs">(relative units)</text>
</svg></div></body></html>
